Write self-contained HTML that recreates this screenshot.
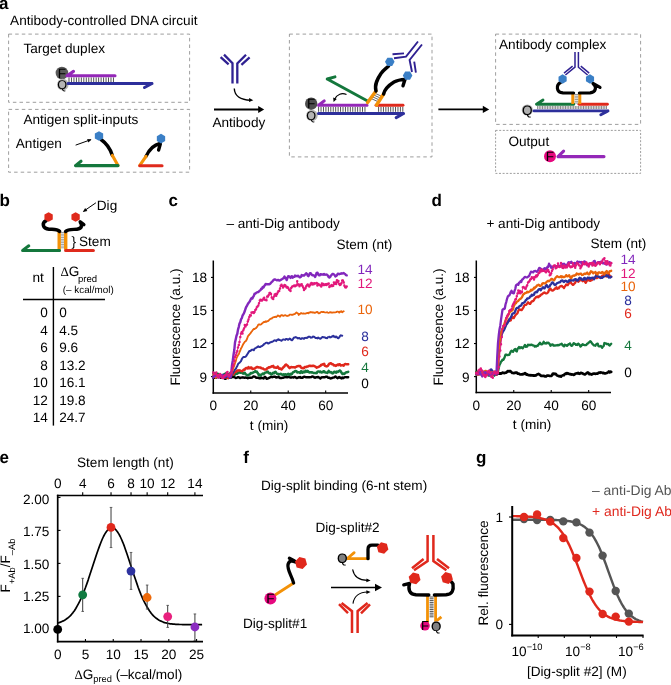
<!DOCTYPE html>
<html><head><meta charset="utf-8"><title>Antibody-controlled DNA circuit</title>
<style>html,body{margin:0;padding:0;background:#fff}svg{display:block}text{font-family:'Liberation Sans', Arial, Helvetica, sans-serif;text-rendering:geometricPrecision}</style></head><body>
<svg width="671" height="685" viewBox="0 0 671 685">
<rect width="671" height="685" fill="#fff"/>
<text x="-1.1" y="8.9" font-size="17" text-anchor="start" fill="#000" font-weight="bold">a</text>
<text x="-0.4" y="206" font-size="17" text-anchor="start" fill="#000" font-weight="bold">b</text>
<text x="168.4" y="205.8" font-size="17" text-anchor="start" fill="#000" font-weight="bold">c</text>
<text x="431.4" y="205.8" font-size="17" text-anchor="start" fill="#000" font-weight="bold">d</text>
<text x="-0.5" y="463.1" font-size="17" text-anchor="start" fill="#000" font-weight="bold">e</text>
<text x="243.3" y="463.1" font-size="17" text-anchor="start" fill="#000" font-weight="bold">f</text>
<text x="476.0" y="463.2" font-size="17" text-anchor="start" fill="#000" font-weight="bold">g</text>
<text x="10.1" y="24.6" font-size="13.6" text-anchor="start" fill="#000">Antibody-controlled DNA circuit</text>
<rect x="8.6" y="34.1" width="181.00" height="68.20" fill="none" stroke="#858585" stroke-width="0.8" stroke-dasharray="3.5 3.1"/>
<rect x="8.6" y="109.4" width="181.00" height="62.80" fill="none" stroke="#858585" stroke-width="0.8" stroke-dasharray="3.5 3.1"/>
<rect x="289.4" y="34.1" width="142.60" height="122.80" fill="none" stroke="#858585" stroke-width="0.8" stroke-dasharray="3.5 3.1"/>
<rect x="495.6" y="34.1" width="145.00" height="90.30" fill="none" stroke="#858585" stroke-width="0.8" stroke-dasharray="3.5 3.1"/>
<rect x="495.6" y="130.4" width="145.00" height="43.00" fill="none" stroke="#858585" stroke-width="0.8" stroke-dasharray="2 1.6"/>
<text x="23.4" y="52.5" font-size="13.6" text-anchor="start" fill="#000">Target duplex</text>
<text x="23.4" y="124.4" font-size="13.6" text-anchor="start" fill="#000">Antigen split-inputs</text>
<text x="15.8" y="148" font-size="13.6" text-anchor="start" fill="#000">Antigen</text>
<text x="212.4" y="127" font-size="13.6" text-anchor="start" fill="#000">Antibody</text>
<text x="499.0" y="49.4" font-size="13.6" text-anchor="start" fill="#000">Antibody complex</text>
<text x="508.4" y="145.8" font-size="13.6" text-anchor="start" fill="#000">Output</text>
<circle cx="61.9" cy="73" r="6.3" fill="#5a5a5a"/>
<text x="61.9" y="77.7" font-size="13.6" text-anchor="middle" fill="#000">F</text>
<circle cx="62.8" cy="84.6" r="5.8" fill="#b4b4b4"/>
<text x="62.1" y="88.7" font-size="12.7" text-anchor="middle" fill="#000">Q</text>
<path d="M69.00,77.4V82.2M71.47,77.4V82.2M73.94,77.4V82.2M76.41,77.4V82.2M78.88,77.4V82.2M81.35,77.4V82.2M83.82,77.4V82.2M86.29,77.4V82.2M88.76,77.4V82.2M91.23,77.4V82.2M93.70,77.4V82.2M96.17,77.4V82.2M98.64,77.4V82.2M101.11,77.4V82.2M103.58,77.4V82.2M106.05,77.4V82.2M108.52,77.4V82.2M110.99,77.4V82.2M113.46,77.4V82.2" stroke="#1a1a1a" stroke-width="0.75" fill="none" stroke-linecap="butt" stroke-linejoin="round"/>
<path d="M67,75.7H115M67,75.7L73.5,71.4" stroke="#9428b8" stroke-width="3.1" fill="none" stroke-linecap="round" stroke-linejoin="round"/>
<path d="M68,83.5H152M152,83.5L144.5,87.5" stroke="#2d2f9b" stroke-width="3.0" fill="none" stroke-linecap="round" stroke-linejoin="round"/>
<path d="M76,145L90.5,139.8" stroke="#000" stroke-width="1" fill="none" stroke-linecap="round" stroke-linejoin="round"/>
<polygon points="91.50,139.40 88.36,142.46 87.13,139.08" fill="#000"/>
<path d="M101,139.5C106,143 110,148 112.4,155.4" stroke="#000" stroke-width="3.4" fill="none" stroke-linecap="round" stroke-linejoin="round"/>
<path d="M112.4,155.4L118,165.4" stroke="#f39208" stroke-width="3.1" fill="none" stroke-linecap="round" stroke-linejoin="round"/>
<path d="M118,165.6H75.5M75.5,165.6L81,161.2" stroke="#14773c" stroke-width="3.1" fill="none" stroke-linecap="round" stroke-linejoin="round"/>
<polygon points="103.16,138.40 99.00,140.80 94.84,138.40 94.84,133.60 99.00,131.20 103.16,133.60" fill="#3a7fc6"/>
<path d="M146,156.4C149,150 153,145 160,143.5M160.3,144L158.6,150" stroke="#000" stroke-width="3.4" fill="none" stroke-linecap="round" stroke-linejoin="round"/>
<path d="M139.8,165.4L146,156.4" stroke="#f39208" stroke-width="3.1" fill="none" stroke-linecap="round" stroke-linejoin="round"/>
<path d="M139.8,165.7H162" stroke="#df2a1c" stroke-width="3.1" fill="none" stroke-linecap="round" stroke-linejoin="round"/>
<polygon points="165.16,141.00 161.00,143.40 156.84,141.00 156.84,136.20 161.00,133.80 165.16,136.20" fill="#3a7fc6"/>
<path d="M224,54.6L232.5,63.2V83.5M246,54.8L237.3,63.4V83.5M220.6,57.2L228.6,64.3M249.6,57.4L241.4,64.8" stroke="#2f2192" stroke-width="2.3" fill="none" stroke-linecap="butt" stroke-linejoin="miter"/>
<path d="M234.3,88.6C234.5,96 241,100 250.5,100.2" stroke="#000" stroke-width="1.4" fill="none" stroke-linecap="butt" stroke-linejoin="round"/>
<polygon points="253.30,100.20 249.03,102.05 249.17,98.05" fill="#000"/>
<line x1="214.00" y1="109.50" x2="259.00" y2="109.50" stroke="#000" stroke-width="1.9" stroke-linecap="butt"/>
<polygon points="264.20,109.50 258.20,113.10 258.20,105.90" fill="#000"/>
<line x1="438.40" y1="109.40" x2="484.00" y2="109.40" stroke="#000" stroke-width="1.9" stroke-linecap="butt"/>
<polygon points="489.20,109.40 482.80,113.00 482.80,105.80" fill="#000"/>
<circle cx="311.2" cy="103.7" r="6.2" fill="#4d4d4d"/>
<text x="311.2" y="108.4" font-size="13.6" text-anchor="middle" fill="#000">F</text>
<circle cx="311.9" cy="115.5" r="5.8" fill="#b4b4b4"/>
<text x="311.2" y="119.7" font-size="12.7" text-anchor="middle" fill="#000">Q</text>
<path d="M318.60,106.8V111.8M321.04,106.8V111.8M323.48,106.8V111.8M325.92,106.8V111.8M328.36,106.8V111.8M330.80,106.8V111.8M333.24,106.8V111.8M335.68,106.8V111.8M338.12,106.8V111.8M340.56,106.8V111.8M343.00,106.8V111.8M345.44,106.8V111.8M347.88,106.8V111.8M350.32,106.8V111.8M352.76,106.8V111.8M355.20,106.8V111.8M357.64,106.8V111.8M360.08,106.8V111.8M362.52,106.8V111.8M364.96,106.8V111.8" stroke="#1a1a1a" stroke-width="0.75" fill="none" stroke-linecap="butt" stroke-linejoin="round"/>
<path d="M378.60,106.8V111.8M381.02,106.8V111.8M383.44,106.8V111.8M385.86,106.8V111.8M388.28,106.8V111.8M390.70,106.8V111.8M393.12,106.8V111.8M395.54,106.8V111.8M397.96,106.8V111.8M400.38,106.8V111.8M402.80,106.8V111.8" stroke="#1a1a1a" stroke-width="0.75" fill="none" stroke-linecap="butt" stroke-linejoin="round"/>
<path d="M318.6,105.3H367M318.6,105.3L324.2,100.9" stroke="#9428b8" stroke-width="3.1" fill="none" stroke-linecap="round" stroke-linejoin="round"/>
<path d="M318.5,113.5H403.5M403.5,113.5L396.2,117.6" stroke="#2d2f9b" stroke-width="3.1" fill="none" stroke-linecap="round" stroke-linejoin="round"/>
<path d="M376,105.2H403" stroke="#df2a1c" stroke-width="2.9" fill="none" stroke-linecap="round" stroke-linejoin="round"/>
<path d="M368,101.2L327.2,79M327.2,79L335,76.8" stroke="#14773c" stroke-width="2.9" fill="none" stroke-linecap="round" stroke-linejoin="round"/>
<path d="M371.6,96.4L378.6,99.6M372.8,94.6L379.8,97.8M374,92.8L381,96M370.4,98.2L377.4,101.4" stroke="#222" stroke-width="0.7" fill="none" stroke-linecap="butt" stroke-linejoin="round"/>
<path d="M367.6,102.6L376,91" stroke="#f39208" stroke-width="3.4" fill="none" stroke-linecap="round" stroke-linejoin="round"/>
<path d="M376.6,105L383.6,94" stroke="#f39208" stroke-width="3.4" fill="none" stroke-linecap="round" stroke-linejoin="round"/>
<path d="M376,91C374,84 378,78 381,73.5C383.5,70 386,68.5 388.6,66" stroke="#000" stroke-width="3.4" fill="none" stroke-linecap="round" stroke-linejoin="round"/>
<path d="M383.6,94C385,88 390,84.5 394,82C398,79.8 401,79.6 405,79.4M405,79.6L403,85.8" stroke="#000" stroke-width="3.4" fill="none" stroke-linecap="round" stroke-linejoin="round"/>
<polygon points="394.60,61.80 392.20,65.96 387.40,65.96 385.00,61.80 387.40,57.64 392.20,57.64" fill="#3a7fc6"/>
<polygon points="412.40,75.60 410.00,79.76 405.20,79.76 402.80,75.60 405.20,71.44 410.00,71.44" fill="#3a7fc6"/>
<path d="M418,41.5L406,56.6L394,58.3M422,44.5L409.6,60L412,72M392.5,54.2L404,53.4M414.2,61.6L415.9,72.6" stroke="#2f2192" stroke-width="1.9" fill="none" stroke-linecap="butt" stroke-linejoin="miter"/>
<path d="M346.5,94.5C342,92.5 337,94 334.5,99.5" stroke="#000" stroke-width="1.1" fill="none" stroke-linecap="butt" stroke-linejoin="round"/>
<polygon points="333.60,102.00 333.18,97.59 336.75,98.89" fill="#000"/>
<circle cx="527.3" cy="110" r="5.6" fill="#b0b0b0"/>
<text x="527.3" y="114.7" font-size="13.6" text-anchor="middle" fill="#000">Q</text>
<path d="M537.60,106V109.1M539.24,106V109.1M540.88,106V109.1M542.52,106V109.1M544.16,106V109.1M545.80,106V109.1M547.44,106V109.1M549.08,106V109.1M550.72,106V109.1M552.36,106V109.1M554.00,106V109.1M555.64,106V109.1M557.28,106V109.1M558.92,106V109.1M560.56,106V109.1M562.20,106V109.1M563.84,106V109.1M565.48,106V109.1M567.12,106V109.1M568.76,106V109.1M570.40,106V109.1M572.04,106V109.1M573.68,106V109.1M575.32,106V109.1M576.96,106V109.1M578.60,106V109.1M580.24,106V109.1M581.88,106V109.1M583.52,106V109.1M585.16,106V109.1M586.80,106V109.1M588.44,106V109.1M590.08,106V109.1M591.72,106V109.1M593.36,106V109.1M595.00,106V109.1M596.64,106V109.1M598.28,106V109.1M599.92,106V109.1M601.56,106V109.1M603.20,106V109.1M604.84,106V109.1M606.48,106V109.1" stroke="#222" stroke-width="0.55" fill="none" stroke-linecap="butt" stroke-linejoin="round"/>
<path d="M536.5,104.2H573.8M536.5,104.2L543,100" stroke="#14773c" stroke-width="2.9" fill="none" stroke-linecap="round" stroke-linejoin="round"/>
<path d="M579,104.2H607.4" stroke="#df2a1c" stroke-width="2.9" fill="none" stroke-linecap="round" stroke-linejoin="round"/>
<path d="M534,110.9H608M608,110.9L600.8,114.8" stroke="#2d2f9b" stroke-width="2.9" fill="none" stroke-linecap="round" stroke-linejoin="round"/>
<path d="M0.00,0V0" stroke="#1a1a1a" stroke-width="0.75" fill="none" stroke-linecap="butt" stroke-linejoin="round"/>
<path d="M574.6,94.5H578.6M574.6,96.2H578.6M574.6,97.9H578.6M574.6,99.6H578.6M574.6,101.3H578.6M574.6,103H578.6" stroke="#444" stroke-width="0.6" fill="none" stroke-linecap="butt" stroke-linejoin="round"/>
<path d="M572.8,92.6V104" stroke="#f39208" stroke-width="3" fill="none" stroke-linecap="butt" stroke-linejoin="round"/>
<path d="M579.8,92.6V104" stroke="#f39208" stroke-width="3" fill="none" stroke-linecap="butt" stroke-linejoin="round"/>
<path d="M560.5,82.5C556,85 556,92.5 563,92.8L573.6,93" stroke="#000" stroke-width="3.2" fill="none" stroke-linecap="round" stroke-linejoin="round"/>
<path d="M579.4,93L590,92.8C596,92.5 597,87 593,83.6M593,83.4L600,87.4" stroke="#000" stroke-width="3.2" fill="none" stroke-linecap="round" stroke-linejoin="round"/>
<polygon points="566.67,81.35 562.60,83.70 558.53,81.35 558.53,76.65 562.60,74.30 566.67,76.65" fill="#3a7fc6"/>
<polygon points="594.07,81.35 590.00,83.70 585.93,81.35 585.93,76.65 590.00,74.30 594.07,76.65" fill="#3a7fc6"/>
<path d="M575,52V67.2L565.4,75M578.4,52V67.2L587.6,75M572.6,66.2L564,73.2M580.8,66.2L589.2,73.2" stroke="#2f2192" stroke-width="1.5" fill="none" stroke-linecap="butt" stroke-linejoin="miter"/>
<circle cx="550" cy="156.3" r="6" fill="#e6087f"/>
<text x="550" y="160.8" font-size="13.6" text-anchor="middle" fill="#000">F</text>
<path d="M558,156.6H604M558,156.6L563.6,151.2" stroke="#9428b8" stroke-width="3.1" fill="none" stroke-linecap="round" stroke-linejoin="round"/>
<path d="M95.6,203L84,211" stroke="#000" stroke-width="1" fill="none" stroke-linecap="round" stroke-linejoin="round"/>
<polygon points="82.80,211.90 85.15,207.93 87.33,211.05" fill="#000"/>
<text x="96.8" y="209.8" font-size="13.6" text-anchor="start" fill="#000">Dig</text>
<text x="79.0" y="246" font-size="13.6" text-anchor="start" fill="#000">Stem</text>
<text x="71.6" y="246.2" font-size="13.6" text-anchor="start" fill="#000">}</text>
<path d="M60.6,232.5H64.6M60.6,234.2H64.6M60.6,235.9H64.6M60.6,237.6H64.6M60.6,239.3H64.6M60.6,241H64.6M60.6,242.7H64.6M60.6,244.4H64.6M60.6,246.1H64.6M60.6,247.8H64.6" stroke="#555" stroke-width="0.6" fill="none" stroke-linecap="butt" stroke-linejoin="round"/>
<path d="M59.2,231V249.8" stroke="#f39208" stroke-width="3.4" fill="none" stroke-linecap="butt" stroke-linejoin="round"/>
<path d="M65.7,231V249.8" stroke="#f39208" stroke-width="3.4" fill="none" stroke-linecap="butt" stroke-linejoin="round"/>
<path d="M22.6,250.4H59.6M22.6,250.4L28.8,245.8" stroke="#14773c" stroke-width="3" fill="none" stroke-linecap="round" stroke-linejoin="round"/>
<path d="M65.6,250.4H93.4" stroke="#df2a1c" stroke-width="3" fill="none" stroke-linecap="round" stroke-linejoin="round"/>
<path d="M46.2,220.6C41.5,223 42.5,228.6 49,229.2C53,229.6 57,229 59.6,231.4" stroke="#000" stroke-width="3.5" fill="none" stroke-linecap="round" stroke-linejoin="round"/>
<path d="M65.6,231.4C68,229 73,229.6 77,229.2C82,228.6 82.5,225.5 80.2,222M80.2,221.8L83.8,224.6" stroke="#000" stroke-width="3.5" fill="none" stroke-linecap="round" stroke-linejoin="round"/>
<polygon points="52.76,219.40 48.60,221.80 44.44,219.40 44.44,214.60 48.60,212.20 52.76,214.60" fill="#df2a1c"/>
<polygon points="79.76,219.40 75.60,221.80 71.44,219.40 71.44,214.60 75.60,212.20 79.76,214.60" fill="#df2a1c"/>
<line x1="53.40" y1="267.00" x2="53.40" y2="425.60" stroke="#000" stroke-width="1.4" stroke-linecap="butt"/>
<line x1="23.00" y1="299.50" x2="105.00" y2="299.50" stroke="#000" stroke-width="1.4" stroke-linecap="butt"/>
<text x="32.4" y="282" font-size="13.6" text-anchor="start" fill="#000">nt</text>
<text x="60.4" y="276" font-size="13.6"><tspan font-family="'Liberation Serif',serif" font-size="13">Δ</tspan>G</text>
<text x="78.0" y="281.6" font-size="9.55" text-anchor="start" fill="#000">pred</text>
<text x="62.8" y="293" font-size="9.85" text-anchor="start" fill="#000">(– kcal/mol)</text>
<text x="47.8" y="317.2" font-size="13.6" text-anchor="end" fill="#000">0</text>
<text x="59.2" y="317.2" font-size="13.6" text-anchor="start" fill="#000">0</text>
<text x="47.8" y="334.7" font-size="13.6" text-anchor="end" fill="#000">4</text>
<text x="59.2" y="334.7" font-size="13.6" text-anchor="start" fill="#000">4.5</text>
<text x="47.8" y="352.1" font-size="13.6" text-anchor="end" fill="#000">6</text>
<text x="59.2" y="352.1" font-size="13.6" text-anchor="start" fill="#000">9.6</text>
<text x="47.8" y="369.6" font-size="13.6" text-anchor="end" fill="#000">8</text>
<text x="59.2" y="369.6" font-size="13.6" text-anchor="start" fill="#000">13.2</text>
<text x="47.8" y="387.1" font-size="13.6" text-anchor="end" fill="#000">10</text>
<text x="59.2" y="387.1" font-size="13.6" text-anchor="start" fill="#000">16.1</text>
<text x="47.8" y="404.5" font-size="13.6" text-anchor="end" fill="#000">12</text>
<text x="59.2" y="404.5" font-size="13.6" text-anchor="start" fill="#000">19.8</text>
<text x="47.8" y="422.0" font-size="13.6" text-anchor="end" fill="#000">14</text>
<text x="59.2" y="422.0" font-size="13.6" text-anchor="start" fill="#000">24.7</text>
<line x1="213.30" y1="260.50" x2="213.30" y2="393.75" stroke="#000" stroke-width="1.5" stroke-linecap="butt"/>
<line x1="212.55" y1="393.00" x2="348.00" y2="393.00" stroke="#000" stroke-width="1.5" stroke-linecap="butt"/>
<line x1="211.00" y1="376.60" x2="213.30" y2="376.60" stroke="#000" stroke-width="1.1" stroke-linecap="butt"/>
<text x="207.0" y="381.5" font-size="13.6" text-anchor="end" fill="#000">9</text>
<line x1="211.00" y1="343.54" x2="213.30" y2="343.54" stroke="#000" stroke-width="1.1" stroke-linecap="butt"/>
<text x="207.0" y="348.4" font-size="13.6" text-anchor="end" fill="#000">12</text>
<line x1="211.00" y1="310.48" x2="213.30" y2="310.48" stroke="#000" stroke-width="1.1" stroke-linecap="butt"/>
<text x="207.0" y="315.4" font-size="13.6" text-anchor="end" fill="#000">15</text>
<line x1="211.00" y1="277.42" x2="213.30" y2="277.42" stroke="#000" stroke-width="1.1" stroke-linecap="butt"/>
<text x="207.0" y="282.3" font-size="13.6" text-anchor="end" fill="#000">18</text>
<text x="213.3" y="410.3" font-size="13.6" text-anchor="middle" fill="#000">0</text>
<line x1="250.76" y1="390.40" x2="250.76" y2="393.00" stroke="#000" stroke-width="1.1" stroke-linecap="butt"/>
<text x="250.8" y="410.3" font-size="13.6" text-anchor="middle" fill="#000">20</text>
<line x1="288.22" y1="390.40" x2="288.22" y2="393.00" stroke="#000" stroke-width="1.1" stroke-linecap="butt"/>
<text x="288.2" y="410.3" font-size="13.6" text-anchor="middle" fill="#000">40</text>
<line x1="325.68" y1="390.40" x2="325.68" y2="393.00" stroke="#000" stroke-width="1.1" stroke-linecap="butt"/>
<text x="325.7" y="410.3" font-size="13.6" text-anchor="middle" fill="#000">60</text>
<text x="269.1" y="429.8" font-size="13.6" text-anchor="middle" fill="#000">t (min)</text>
<text transform="translate(180.3,327) rotate(-90)" font-size="13.6" text-anchor="middle">Fluorescence (a.u.)</text>
<text x="226.4" y="227.8" font-size="13.6" text-anchor="start" fill="#000">– anti-Dig antibody</text>
<path d="M213.3,377.5 L214.0,377.5 L214.8,377.9 L215.5,377.9 L216.3,377.5 L217.0,377.1 L217.8,376.7 L218.5,376.9 L219.3,376.9 L220.0,377.2 L220.8,377.8 L221.5,377.7 L222.3,377.6 L223.0,376.9 L223.8,377.7 L224.5,378.4 L225.3,378.9 L226.0,378.5 L226.8,377.8 L227.5,377.5 L228.3,377.2 L229.0,377.5 L229.8,377.4 L230.5,377.5 L231.3,377.5 L232.0,377.0 L232.8,377.0 L233.5,376.4 L234.3,377.1 L235.0,377.5 L235.8,378.0 L236.5,377.9 L237.3,377.4 L238.0,377.2 L238.8,377.3 L239.5,377.8 L240.3,378.1 L241.0,377.6 L241.8,377.5 L242.5,377.3 L243.3,377.5 L244.0,377.7 L244.8,377.8 L245.5,377.5 L246.3,377.7 L247.0,377.8 L247.8,378.3 L248.5,377.9 L249.3,377.6 L250.0,377.6 L250.8,377.8 L251.5,377.7 L252.3,377.5 L253.0,376.7 L253.8,376.5 L254.5,376.6 L255.3,376.9 L256.0,377.7 L256.8,377.7 L257.5,377.9 L258.3,377.6 L259.0,378.2 L259.8,378.3 L260.5,378.4 L261.2,377.5 L262.0,377.9 L262.7,378.2 L263.5,378.5 L264.2,377.4 L265.0,376.8 L265.7,377.4 L266.5,378.7 L267.2,378.8 L268.0,378.4 L268.7,378.0 L269.5,377.8 L270.2,377.2 L271.0,376.8 L271.7,377.0 L272.5,377.2 L273.2,376.8 L274.0,376.6 L274.7,376.6 L275.5,376.9 L276.2,377.6 L277.0,377.4 L277.7,377.3 L278.5,376.6 L279.2,377.6 L280.0,378.1 L280.7,378.0 L281.5,378.0 L282.2,377.8 L283.0,377.8 L283.7,377.6 L284.5,377.1 L285.2,377.2 L286.0,376.8 L286.7,377.3 L287.5,377.2 L288.2,377.1 L289.0,376.9 L289.7,377.3 L290.5,377.5 L291.2,377.5 L292.0,377.3 L292.7,377.4 L293.5,377.5 L294.2,377.0 L295.0,376.9 L295.7,377.6 L296.5,378.1 L297.2,378.0 L298.0,377.7 L298.7,377.2 L299.5,377.5 L300.2,377.0 L301.0,377.8 L301.7,377.7 L302.5,377.9 L303.2,377.2 L304.0,376.6 L304.7,376.7 L305.5,377.1 L306.2,377.3 L307.0,377.2 L307.7,377.3 L308.4,377.3 L309.2,377.3 L309.9,377.2 L310.7,377.1 L311.4,377.1 L312.2,376.4 L312.9,376.6 L313.7,376.9 L314.4,377.6 L315.2,377.7 L315.9,377.3 L316.7,377.3 L317.4,377.2 L318.2,376.9 L318.9,377.6 L319.7,378.1 L320.4,378.6 L321.2,377.6 L321.9,377.2 L322.7,377.4 L323.4,377.3 L324.2,377.3 L324.9,377.3 L325.7,376.8 L326.4,376.8 L327.2,376.8 L327.9,377.6 L328.7,377.8 L329.4,377.6 L330.2,378.4 L330.9,378.5 L331.7,378.2 L332.4,377.7 L333.2,377.6 L333.9,377.6 L334.7,376.9 L335.4,376.4 L336.2,377.3 L336.9,377.7 L337.7,378.2 L338.4,377.5 L339.2,377.0 L339.9,377.8 L340.7,377.6 L341.4,378.4 L342.2,377.4 L342.9,378.2 L343.7,377.7 L344.4,377.5 L345.2,377.1 L345.9,377.1 L346.7,377.2 L347.4,377.1 L348.2,377.2" stroke="#000" stroke-width="2.4" fill="none" stroke-linecap="round" stroke-linejoin="round"/>
<path d="M213.3,372.7 L214.0,372.9 L214.8,373.5 L215.5,373.3 L216.3,374.2 L217.0,373.6 L217.8,373.8 L218.5,374.3 L219.3,375.0 L220.0,375.1 L220.8,375.6 L221.5,376.4 L222.3,376.3 L223.0,375.1 L223.8,375.0 L224.5,374.0 L225.3,373.9 L226.0,373.3 L226.8,374.3 L227.5,374.3 L228.3,374.3 L229.0,374.3 L229.8,373.6 L230.5,372.6 L231.3,373.0 L232.0,374.6 L232.8,373.6 L233.5,374.3 L234.3,374.9 L235.0,374.6 L235.8,373.5 L236.5,373.5 L237.3,373.8 L238.0,373.0 L238.8,372.5 L239.5,372.0 L240.3,372.7 L241.0,372.6 L241.8,372.6 L242.5,373.2 L243.3,373.7 L244.0,373.0 L244.8,372.8 L245.5,374.2 L246.3,374.4 L247.0,375.2 L247.8,375.5 L248.5,375.2 L249.3,374.4 L250.0,374.2 L250.8,373.0 L251.5,373.3 L252.3,372.9 L253.0,372.6 L253.8,372.1 L254.5,371.8 L255.3,371.1 L256.0,371.9 L256.8,371.5 L257.5,372.8 L258.3,373.9 L259.0,375.5 L259.8,374.7 L260.5,375.6 L261.2,374.8 L262.0,374.3 L262.7,373.5 L263.5,374.2 L264.2,373.5 L265.0,372.7 L265.7,372.6 L266.5,372.3 L267.2,371.6 L268.0,371.8 L268.7,373.1 L269.5,373.4 L270.2,373.1 L271.0,374.3 L271.7,374.4 L272.5,373.4 L273.2,372.8 L274.0,373.3 L274.7,372.2 L275.5,371.8 L276.2,372.8 L277.0,373.8 L277.7,374.1 L278.5,374.0 L279.2,374.3 L280.0,374.2 L280.7,373.8 L281.5,374.2 L282.2,374.7 L283.0,374.9 L283.7,374.3 L284.5,375.0 L285.2,374.2 L286.0,374.4 L286.7,374.8 L287.5,374.6 L288.2,373.7 L289.0,374.8 L289.7,374.9 L290.5,373.9 L291.2,374.4 L292.0,373.9 L292.7,372.6 L293.5,371.9 L294.2,371.9 L295.0,371.1 L295.7,371.1 L296.5,371.2 L297.2,372.5 L298.0,372.2 L298.7,372.2 L299.5,372.6 L300.2,373.0 L301.0,371.2 L301.7,372.4 L302.5,372.8 L303.2,371.6 L304.0,371.8 L304.7,372.3 L305.5,370.7 L306.2,370.9 L307.0,371.8 L307.7,370.9 L308.4,371.6 L309.2,372.5 L309.9,372.3 L310.7,372.2 L311.4,372.6 L312.2,372.3 L312.9,372.7 L313.7,373.0 L314.4,372.9 L315.2,372.9 L315.9,373.2 L316.7,373.1 L317.4,371.7 L318.2,371.6 L318.9,371.4 L319.7,372.2 L320.4,371.5 L321.2,372.5 L321.9,372.2 L322.7,372.3 L323.4,371.2 L324.2,371.2 L324.9,372.3 L325.7,372.6 L326.4,372.6 L327.2,372.9 L327.9,372.5 L328.7,370.9 L329.4,372.0 L330.2,372.4 L330.9,372.0 L331.7,372.5 L332.4,373.4 L333.2,373.2 L333.9,372.0 L334.7,371.7 L335.4,372.3 L336.2,372.7 L336.9,371.5 L337.7,372.0 L338.4,371.7 L339.2,370.8 L339.9,370.5 L340.7,371.2 L341.4,372.6 L342.2,373.7 L342.9,374.1 L343.7,373.5 L344.4,373.9 L345.2,373.0 L345.9,372.5 L346.7,372.3 L347.4,372.2 L348.2,371.8" stroke="#14773c" stroke-width="2.5" fill="none" stroke-linecap="round" stroke-linejoin="round"/>
<path d="M213.3,376.5 L214.0,376.3 L214.8,376.7 L215.5,376.7 L216.3,376.3 L217.0,376.0 L217.8,376.0 L218.5,376.5 L219.3,376.4 L220.0,375.9 L220.8,375.8 L221.5,375.8 L222.3,375.1 L223.0,375.7 L223.8,377.0 L224.5,377.2 L225.3,377.5 L226.0,377.4 L226.8,377.4 L227.5,377.8 L228.3,378.2 L229.0,376.8 L229.8,377.0 L230.5,376.8 L231.3,375.6 L232.0,374.6 L232.8,374.8 L233.5,374.3 L234.3,372.7 L235.0,371.8 L235.8,371.8 L236.5,371.5 L237.3,370.6 L238.0,370.6 L238.8,370.3 L239.5,370.5 L240.3,370.6 L241.0,370.9 L241.8,371.2 L242.5,371.0 L243.3,370.1 L244.0,369.4 L244.8,369.7 L245.5,368.3 L246.3,368.0 L247.0,368.2 L247.8,368.5 L248.5,367.1 L249.3,368.2 L250.0,368.2 L250.8,367.6 L251.5,367.5 L252.3,369.0 L253.0,368.7 L253.8,368.8 L254.5,368.6 L255.3,368.2 L256.0,367.5 L256.8,367.1 L257.5,367.0 L258.3,367.3 L259.0,367.5 L259.8,367.5 L260.5,367.5 L261.2,368.2 L262.0,368.4 L262.7,368.4 L263.5,368.9 L264.2,369.3 L265.0,369.6 L265.7,369.6 L266.5,369.3 L267.2,368.3 L268.0,368.1 L268.7,367.2 L269.5,367.5 L270.2,366.9 L271.0,366.9 L271.7,366.3 L272.5,366.5 L273.2,365.9 L274.0,367.5 L274.7,367.4 L275.5,367.4 L276.2,367.8 L277.0,367.7 L277.7,366.6 L278.5,367.7 L279.2,368.8 L280.0,368.4 L280.7,368.7 L281.5,369.5 L282.2,368.7 L283.0,367.7 L283.7,367.0 L284.5,366.3 L285.2,365.0 L286.0,364.5 L286.7,365.2 L287.5,365.6 L288.2,366.4 L289.0,367.5 L289.7,368.1 L290.5,367.4 L291.2,367.0 L292.0,367.2 L292.7,367.2 L293.5,367.2 L294.2,367.3 L295.0,367.6 L295.7,366.9 L296.5,366.7 L297.2,366.3 L298.0,366.1 L298.7,366.0 L299.5,366.2 L300.2,366.0 L301.0,367.5 L301.7,368.0 L302.5,368.0 L303.2,368.3 L304.0,368.1 L304.7,366.9 L305.5,367.0 L306.2,367.1 L307.0,366.6 L307.7,366.5 L308.4,366.3 L309.2,365.7 L309.9,365.9 L310.7,365.8 L311.4,366.1 L312.2,366.0 L312.9,365.8 L313.7,365.8 L314.4,366.3 L315.2,366.4 L315.9,367.1 L316.7,367.7 L317.4,367.4 L318.2,367.0 L318.9,366.8 L319.7,366.2 L320.4,365.9 L321.2,364.8 L321.9,364.8 L322.7,364.3 L323.4,364.5 L324.2,363.8 L324.9,365.9 L325.7,366.1 L326.4,366.4 L327.2,366.2 L327.9,365.7 L328.7,364.5 L329.4,363.6 L330.2,363.3 L330.9,363.2 L331.7,364.0 L332.4,364.2 L333.2,364.5 L333.9,365.4 L334.7,365.2 L335.4,365.9 L336.2,365.7 L336.9,365.0 L337.7,364.6 L338.4,365.1 L339.2,364.2 L339.9,364.3 L340.7,365.6 L341.4,365.4 L342.2,365.1 L342.9,365.3 L343.7,365.7 L344.4,364.5 L345.2,363.9 L345.9,364.1 L346.7,364.3 L347.4,364.2 L348.2,364.3" stroke="#e0281c" stroke-width="2.5" fill="none" stroke-linecap="round" stroke-linejoin="round"/>
<path d="M213.3,376.3 L214.0,376.3 L214.8,376.3 L215.5,375.4 L216.3,375.1 L217.0,375.8 L217.8,376.0 L218.5,376.0 L219.3,375.6 L220.0,375.3 L220.8,374.7 L221.5,375.1 L222.3,374.8 L223.0,375.3 L223.8,374.7 L224.5,376.0 L225.3,376.0 L226.0,377.1 L226.8,376.1 L227.5,375.4 L228.3,375.2 L229.0,376.7 L229.8,378.0 L230.5,376.9 L231.3,376.1 L232.0,373.9 L232.8,373.2 L233.5,371.7 L234.3,370.9 L235.0,369.5 L235.8,368.9 L236.5,367.3 L237.3,366.0 L238.0,364.1 L238.8,363.2 L239.5,362.7 L240.3,361.9 L241.0,361.1 L241.8,359.1 L242.5,358.0 L243.3,357.0 L244.0,357.1 L244.8,357.0 L245.5,356.7 L246.3,355.9 L247.0,354.8 L247.8,353.5 L248.5,352.4 L249.3,351.0 L250.0,351.0 L250.8,350.7 L251.5,349.8 L252.3,349.8 L253.0,349.6 L253.8,350.3 L254.5,348.9 L255.3,348.1 L256.0,347.8 L256.8,347.3 L257.5,347.1 L258.3,346.2 L259.0,346.9 L259.8,346.9 L260.5,346.9 L261.2,346.2 L262.0,346.0 L262.7,345.4 L263.5,344.9 L264.2,343.9 L265.0,343.6 L265.7,342.9 L266.5,342.7 L267.2,342.8 L268.0,343.4 L268.7,343.4 L269.5,342.9 L270.2,342.3 L271.0,342.2 L271.7,341.8 L272.5,341.8 L273.2,341.3 L274.0,340.6 L274.7,340.3 L275.5,340.4 L276.2,341.1 L277.0,340.0 L277.7,339.8 L278.5,339.2 L279.2,340.1 L280.0,340.1 L280.7,340.4 L281.5,340.7 L282.2,340.0 L283.0,339.5 L283.7,339.4 L284.5,339.6 L285.2,339.9 L286.0,338.9 L286.7,338.9 L287.5,339.5 L288.2,339.7 L289.0,339.1 L289.7,338.6 L290.5,338.9 L291.2,340.1 L292.0,340.3 L292.7,339.6 L293.5,338.2 L294.2,337.4 L295.0,337.4 L295.7,337.1 L296.5,337.5 L297.2,337.8 L298.0,338.5 L298.7,338.0 L299.5,338.1 L300.2,338.8 L301.0,338.9 L301.7,338.3 L302.5,338.3 L303.2,338.5 L304.0,338.8 L304.7,338.0 L305.5,337.9 L306.2,337.7 L307.0,338.0 L307.7,337.5 L308.4,336.8 L309.2,336.7 L309.9,336.8 L310.7,337.7 L311.4,337.5 L312.2,337.5 L312.9,336.5 L313.7,336.7 L314.4,337.0 L315.2,337.6 L315.9,338.1 L316.7,338.0 L317.4,338.4 L318.2,337.5 L318.9,338.0 L319.7,338.6 L320.4,338.7 L321.2,338.1 L321.9,337.4 L322.7,337.0 L323.4,337.3 L324.2,337.3 L324.9,337.4 L325.7,338.0 L326.4,338.0 L327.2,338.2 L327.9,337.1 L328.7,336.9 L329.4,336.7 L330.2,337.4 L330.9,337.2 L331.7,336.6 L332.4,336.6 L333.2,335.7 L333.9,336.7 L334.7,336.4 L335.4,337.3 L336.2,336.6 L336.9,337.1 L337.7,338.1 L338.4,338.3 L339.2,337.4 L339.9,336.2 L340.7,335.3 L341.4,335.5 L342.2,335.7" stroke="#2b309c" stroke-width="2.0" fill="none" stroke-linecap="round" stroke-linejoin="round"/>
<path d="M213.3,374.9 L214.0,375.7 L214.8,376.0 L215.5,378.0 L216.3,377.2 L217.0,377.2 L217.8,375.5 L218.5,375.0 L219.3,374.9 L220.0,375.3 L220.8,376.3 L221.5,376.7 L222.3,376.8 L223.0,376.4 L223.8,376.0 L224.5,375.8 L225.3,376.1 L226.0,375.7 L226.8,375.6 L227.5,375.6 L228.3,375.7 L229.0,375.9 L229.8,376.3 L230.5,376.0 L231.3,375.1 L232.0,372.4 L232.8,370.0 L233.5,367.7 L234.3,365.6 L235.0,363.2 L235.8,361.1 L236.5,358.2 L237.3,356.7 L238.0,355.1 L238.8,354.2 L239.5,352.2 L240.3,350.5 L241.0,348.4 L241.8,347.2 L242.5,345.7 L243.3,344.0 L244.0,342.9 L244.8,341.7 L245.5,341.5 L246.3,340.4 L247.0,339.0 L247.8,336.6 L248.5,335.5 L249.3,334.8 L250.0,333.8 L250.8,332.9 L251.5,331.7 L252.3,330.8 L253.0,329.8 L253.8,328.9 L254.5,329.1 L255.3,328.3 L256.0,328.1 L256.8,327.2 L257.5,326.2 L258.3,324.6 L259.0,324.4 L259.8,324.5 L260.5,324.7 L261.2,324.3 L262.0,323.4 L262.7,322.9 L263.5,322.2 L264.2,321.7 L265.0,322.1 L265.7,321.3 L266.5,321.8 L267.2,321.1 L268.0,321.2 L268.7,320.5 L269.5,319.6 L270.2,319.0 L271.0,318.7 L271.7,318.6 L272.5,317.7 L273.2,317.3 L274.0,317.1 L274.7,317.0 L275.5,316.7 L276.2,317.1 L277.0,316.4 L277.7,315.5 L278.5,315.6 L279.2,316.3 L280.0,316.8 L280.7,315.5 L281.5,315.1 L282.2,315.2 L283.0,315.8 L283.7,315.9 L284.5,315.3 L285.2,315.2 L286.0,315.5 L286.7,315.8 L287.5,316.0 L288.2,315.6 L289.0,315.6 L289.7,314.6 L290.5,314.7 L291.2,314.7 L292.0,315.0 L292.7,314.6 L293.5,314.5 L294.2,314.2 L295.0,313.9 L295.7,313.1 L296.5,312.4 L297.2,312.9 L298.0,313.4 L298.7,315.0 L299.5,313.9 L300.2,313.9 L301.0,313.0 L301.7,313.4 L302.5,313.6 L303.2,313.4 L304.0,313.5 L304.7,313.7 L305.5,313.7 L306.2,313.2 L307.0,313.2 L307.7,312.9 L308.4,313.3 L309.2,312.4 L309.9,312.5 L310.7,312.0 L311.4,312.3 L312.2,312.1 L312.9,312.7 L313.7,312.3 L314.4,312.9 L315.2,312.8 L315.9,312.4 L316.7,311.9 L317.4,311.9 L318.2,312.9 L318.9,313.4 L319.7,313.2 L320.4,312.4 L321.2,311.9 L321.9,311.8 L322.7,312.2 L323.4,311.8 L324.2,312.1 L324.9,312.3 L325.7,312.5 L326.4,312.3 L327.2,312.2 L327.9,312.7 L328.7,312.8 L329.4,312.5 L330.2,312.1 L330.9,312.5 L331.7,312.5 L332.4,312.6 L333.2,312.5 L333.9,312.3 L334.7,312.5 L335.4,312.3 L336.2,312.2 L336.9,311.6 L337.7,311.7 L338.4,311.9 L339.2,312.7 L339.9,311.6 L340.7,311.9 L341.4,311.1 L342.2,312.2 L342.9,311.7 L343.7,311.3" stroke="#ea640a" stroke-width="1.8" fill="none" stroke-linecap="round" stroke-linejoin="round"/>
<path d="M213.3,377.5 L214.0,376.1 L214.8,376.2 L215.5,375.3 L216.3,375.2 L217.0,375.7 L217.8,376.5 L218.5,377.5 L219.3,375.9 L220.0,376.7 L220.8,375.6 L221.5,375.6 L222.3,375.2 L223.0,376.1 L223.8,377.7 L224.5,377.1 L225.3,375.9 L226.0,375.4 L226.8,375.6 L227.5,375.7 L228.3,374.9 L229.0,376.7 L229.8,377.1 L230.5,377.0 L231.3,373.2 L232.0,365.1 L232.8,360.4 L233.5,354.9 L234.3,350.0 L235.0,342.5 L235.8,339.0 L236.5,335.8 L237.3,333.8 L238.0,329.6 L238.8,326.8 L239.5,323.6 L240.3,322.1 L241.0,319.4 L241.8,318.2 L242.5,315.7 L243.3,314.3 L244.0,313.2 L244.8,311.0 L245.5,308.8 L246.3,306.7 L247.0,305.8 L247.8,304.1 L248.5,303.0 L249.3,302.0 L250.0,301.0 L250.8,299.1 L251.5,298.1 L252.3,298.6 L253.0,297.2 L253.8,295.9 L254.5,293.8 L255.3,293.8 L256.0,293.0 L256.8,292.5 L257.5,292.2 L258.3,292.0 L259.0,291.4 L259.8,290.5 L260.5,290.2 L261.2,288.8 L262.0,288.7 L262.7,287.1 L263.5,287.5 L264.2,286.0 L265.0,285.1 L265.7,283.9 L266.5,284.1 L267.2,284.4 L268.0,284.1 L268.7,284.2 L269.5,284.2 L270.2,283.8 L271.0,282.8 L271.7,282.0 L272.5,281.4 L273.2,280.4 L274.0,279.6 L274.7,279.4 L275.5,279.7 L276.2,280.0 L277.0,280.3 L277.7,280.0 L278.5,279.9 L279.2,280.5 L280.0,280.3 L280.7,280.0 L281.5,279.4 L282.2,279.0 L283.0,278.5 L283.7,277.9 L284.5,276.5 L285.2,278.2 L286.0,278.0 L286.7,280.1 L287.5,277.9 L288.2,276.2 L289.0,276.4 L289.7,276.8 L290.5,277.9 L291.2,276.5 L292.0,276.2 L292.7,277.7 L293.5,276.9 L294.2,276.9 L295.0,275.5 L295.7,276.3 L296.5,276.0 L297.2,276.2 L298.0,275.7 L298.7,276.3 L299.5,277.2 L300.2,277.3 L301.0,276.8 L301.7,275.0 L302.5,275.5 L303.2,275.5 L304.0,275.6 L304.7,274.9 L305.5,274.1 L306.2,273.3 L307.0,273.9 L307.7,275.6 L308.4,276.2 L309.2,274.8 L309.9,273.1 L310.7,273.1 L311.4,274.3 L312.2,275.2 L312.9,275.1 L313.7,275.3 L314.4,275.9 L315.2,276.9 L315.9,274.9 L316.7,272.8 L317.4,272.6 L318.2,274.4 L318.9,275.3 L319.7,275.4 L320.4,274.2 L321.2,274.3 L321.9,274.5 L322.7,274.5 L323.4,274.7 L324.2,274.0 L324.9,274.7 L325.7,274.6 L326.4,274.5 L327.2,274.9 L327.9,275.7 L328.7,277.1 L329.4,277.5 L330.2,276.8 L330.9,275.6 L331.7,274.8 L332.4,274.0 L333.2,273.9 L333.9,274.4 L334.7,275.1 L335.4,276.4 L336.2,276.0 L336.9,275.3 L337.7,273.8 L338.4,273.8 L339.2,274.2 L339.9,273.9 L340.7,273.8 L341.4,273.3 L342.2,273.5 L342.9,273.4 L343.7,273.0 L344.4,273.7 L345.2,274.0 L345.9,275.2 L346.7,275.4" stroke="#8227bc" stroke-width="2.4" fill="none" stroke-linecap="round" stroke-linejoin="round"/>
<path d="M213.3,372.4 L214.0,373.5 L214.8,374.1 L215.5,373.3 L216.3,372.6 L217.0,375.2 L217.8,376.8 L218.5,377.6 L219.3,374.7 L220.0,373.9 L220.8,375.3 L221.5,377.2 L222.3,378.1 L223.0,378.1 L223.8,376.1 L224.5,376.0 L225.3,375.1 L226.0,374.4 L226.8,372.4 L227.5,372.1 L228.3,375.1 L229.0,375.9 L229.8,374.5 L230.5,373.2 L231.3,372.3 L232.0,370.1 L232.8,366.6 L233.5,364.7 L234.3,361.0 L235.0,356.9 L235.8,355.2 L236.5,352.8 L237.3,351.1 L238.0,347.5 L238.8,345.1 L239.5,342.0 L240.3,336.9 L241.0,333.6 L241.8,331.9 L242.5,333.6 L243.3,330.2 L244.0,328.5 L244.8,325.0 L245.5,326.5 L246.3,325.0 L247.0,324.5 L247.8,321.6 L248.5,319.6 L249.3,316.9 L250.0,315.3 L250.8,315.4 L251.5,312.6 L252.3,312.4 L253.0,312.3 L253.8,312.9 L254.5,312.0 L255.3,310.1 L256.0,309.3 L256.8,307.2 L257.5,306.5 L258.3,305.4 L259.0,303.3 L259.8,300.5 L260.5,299.7 L261.2,300.4 L262.0,300.6 L262.7,299.8 L263.5,298.5 L264.2,297.8 L265.0,299.8 L265.7,300.0 L266.5,300.3 L267.2,296.5 L268.0,296.6 L268.7,295.0 L269.5,292.9 L270.2,293.0 L271.0,293.9 L271.7,297.4 L272.5,298.4 L273.2,298.9 L274.0,296.6 L274.7,294.4 L275.5,294.0 L276.2,295.7 L277.0,294.0 L277.7,292.6 L278.5,291.1 L279.2,291.1 L280.0,288.6 L280.7,285.8 L281.5,284.8 L282.2,285.9 L283.0,287.6 L283.7,286.6 L284.5,285.0 L285.2,285.3 L286.0,286.6 L286.7,287.6 L287.5,287.1 L288.2,288.0 L289.0,289.5 L289.7,290.0 L290.5,291.0 L291.2,288.1 L292.0,286.8 L292.7,286.3 L293.5,286.0 L294.2,285.5 L295.0,286.2 L295.7,285.6 L296.5,285.6 L297.2,281.2 L298.0,284.4 L298.7,284.6 L299.5,286.3 L300.2,284.7 L301.0,285.0 L301.7,284.2 L302.5,286.0 L303.2,287.5 L304.0,290.0 L304.7,289.0 L305.5,288.2 L306.2,286.3 L307.0,285.3 L307.7,284.6 L308.4,285.6 L309.2,286.4 L309.9,285.3 L310.7,283.7 L311.4,283.1 L312.2,284.4 L312.9,283.5 L313.7,284.2 L314.4,283.2 L315.2,283.5 L315.9,283.2 L316.7,282.9 L317.4,285.4 L318.2,283.9 L318.9,284.6 L319.7,285.1 L320.4,285.4 L321.2,286.6 L321.9,283.5 L322.7,284.9 L323.4,284.1 L324.2,285.1 L324.9,284.7 L325.7,284.3 L326.4,285.1 L327.2,284.0 L327.9,284.3 L328.7,283.5 L329.4,287.1 L330.2,285.9 L330.9,286.1 L331.7,285.0 L332.4,286.1 L333.2,285.7 L333.9,282.6 L334.7,283.8 L335.4,282.6 L336.2,284.0 L336.9,280.2 L337.7,282.0 L338.4,281.1 L339.2,284.1 L339.9,285.1 L340.7,284.6 L341.4,283.3 L342.2,280.4 L342.9,280.6 L343.7,282.2 L344.4,285.7 L345.2,287.3 L345.9,287.4 L346.7,286.5" stroke="#e2187b" stroke-width="0.9" fill="none" stroke-linecap="round" stroke-linejoin="round"/>
<path d="M213.3,372.4h0M214.0,373.5h0M214.8,374.1h0M215.5,373.3h0M216.3,372.6h0M217.0,375.2h0M217.8,376.8h0M218.5,377.6h0M219.3,374.7h0M220.0,373.9h0M220.8,375.3h0M221.5,377.2h0M222.3,378.1h0M223.0,378.1h0M223.8,376.1h0M224.5,376.0h0M225.3,375.1h0M226.0,374.4h0M226.8,372.4h0M227.5,372.1h0M228.3,375.1h0M229.0,375.9h0M229.8,374.5h0M230.5,373.2h0M231.3,372.3h0M232.0,370.1h0M232.8,366.6h0M233.5,364.7h0M234.3,361.0h0M235.0,356.9h0M235.8,355.2h0M236.5,352.8h0M237.3,351.1h0M238.0,347.5h0M238.8,345.1h0M239.5,342.0h0M240.3,336.9h0M241.0,333.6h0M241.8,331.9h0M242.5,333.6h0M243.3,330.2h0M244.0,328.5h0M244.8,325.0h0M245.5,326.5h0M246.3,325.0h0M247.0,324.5h0M247.8,321.6h0M248.5,319.6h0M249.3,316.9h0M250.0,315.3h0M250.8,315.4h0M251.5,312.6h0M252.3,312.4h0M253.0,312.3h0M253.8,312.9h0M254.5,312.0h0M255.3,310.1h0M256.0,309.3h0M256.8,307.2h0M257.5,306.5h0M258.3,305.4h0M259.0,303.3h0M259.8,300.5h0M260.5,299.7h0M261.2,300.4h0M262.0,300.6h0M262.7,299.8h0M263.5,298.5h0M264.2,297.8h0M265.0,299.8h0M265.7,300.0h0M266.5,300.3h0M267.2,296.5h0M268.0,296.6h0M268.7,295.0h0M269.5,292.9h0M270.2,293.0h0M271.0,293.9h0M271.7,297.4h0M272.5,298.4h0M273.2,298.9h0M274.0,296.6h0M274.7,294.4h0M275.5,294.0h0M276.2,295.7h0M277.0,294.0h0M277.7,292.6h0M278.5,291.1h0M279.2,291.1h0M280.0,288.6h0M280.7,285.8h0M281.5,284.8h0M282.2,285.9h0M283.0,287.6h0M283.7,286.6h0M284.5,285.0h0M285.2,285.3h0M286.0,286.6h0M286.7,287.6h0M287.5,287.1h0M288.2,288.0h0M289.0,289.5h0M289.7,290.0h0M290.5,291.0h0M291.2,288.1h0M292.0,286.8h0M292.7,286.3h0M293.5,286.0h0M294.2,285.5h0M295.0,286.2h0M295.7,285.6h0M296.5,285.6h0M297.2,281.2h0M298.0,284.4h0M298.7,284.6h0M299.5,286.3h0M300.2,284.7h0M301.0,285.0h0M301.7,284.2h0M302.5,286.0h0M303.2,287.5h0M304.0,290.0h0M304.7,289.0h0M305.5,288.2h0M306.2,286.3h0M307.0,285.3h0M307.7,284.6h0M308.4,285.6h0M309.2,286.4h0M309.9,285.3h0M310.7,283.7h0M311.4,283.1h0M312.2,284.4h0M312.9,283.5h0M313.7,284.2h0M314.4,283.2h0M315.2,283.5h0M315.9,283.2h0M316.7,282.9h0M317.4,285.4h0M318.2,283.9h0M318.9,284.6h0M319.7,285.1h0M320.4,285.4h0M321.2,286.6h0M321.9,283.5h0M322.7,284.9h0M323.4,284.1h0M324.2,285.1h0M324.9,284.7h0M325.7,284.3h0M326.4,285.1h0M327.2,284.0h0M327.9,284.3h0M328.7,283.5h0M329.4,287.1h0M330.2,285.9h0M330.9,286.1h0M331.7,285.0h0M332.4,286.1h0M333.2,285.7h0M333.9,282.6h0M334.7,283.8h0M335.4,282.6h0M336.2,284.0h0M336.9,280.2h0M337.7,282.0h0M338.4,281.1h0M339.2,284.1h0M339.9,285.1h0M340.7,284.6h0M341.4,283.3h0M342.2,280.4h0M342.9,280.6h0M343.7,282.2h0M344.4,285.7h0M345.2,287.3h0M345.9,287.4h0M346.7,286.5h0" stroke="#e2187b" stroke-width="2.5" fill="none" stroke-linecap="round" stroke-linejoin="round"/>
<text x="336.4" y="248.6" font-size="13.6" text-anchor="start" fill="#000">Stem (nt)</text>
<text x="365" y="274" font-size="13.6" text-anchor="middle" fill="#8227bc">14</text>
<text x="365" y="288.4" font-size="13.6" text-anchor="middle" fill="#e2187b">12</text>
<text x="365" y="314.4" font-size="13.6" text-anchor="middle" fill="#ea640a">10</text>
<text x="365" y="340.6" font-size="13.6" text-anchor="middle" fill="#2b309c">8</text>
<text x="365" y="356.4" font-size="13.6" text-anchor="middle" fill="#e0281c">6</text>
<text x="365" y="371.6" font-size="13.6" text-anchor="middle" fill="#14773c">4</text>
<text x="365" y="387.6" font-size="13.6" text-anchor="middle" fill="#000">0</text>
<line x1="476.30" y1="260.50" x2="476.30" y2="393.25" stroke="#000" stroke-width="1.5" stroke-linecap="butt"/>
<line x1="475.55" y1="392.50" x2="611.00" y2="392.50" stroke="#000" stroke-width="1.5" stroke-linecap="butt"/>
<line x1="474.00" y1="376.60" x2="476.30" y2="376.60" stroke="#000" stroke-width="1.1" stroke-linecap="butt"/>
<text x="469.6" y="381.5" font-size="13.6" text-anchor="end" fill="#000">9</text>
<line x1="474.00" y1="343.54" x2="476.30" y2="343.54" stroke="#000" stroke-width="1.1" stroke-linecap="butt"/>
<text x="469.6" y="348.4" font-size="13.6" text-anchor="end" fill="#000">12</text>
<line x1="474.00" y1="310.48" x2="476.30" y2="310.48" stroke="#000" stroke-width="1.1" stroke-linecap="butt"/>
<text x="469.6" y="315.4" font-size="13.6" text-anchor="end" fill="#000">15</text>
<line x1="474.00" y1="277.42" x2="476.30" y2="277.42" stroke="#000" stroke-width="1.1" stroke-linecap="butt"/>
<text x="469.6" y="282.3" font-size="13.6" text-anchor="end" fill="#000">18</text>
<text x="476.3" y="409.8" font-size="13.6" text-anchor="middle" fill="#000">0</text>
<line x1="513.76" y1="389.90" x2="513.76" y2="392.50" stroke="#000" stroke-width="1.1" stroke-linecap="butt"/>
<text x="513.8" y="409.8" font-size="13.6" text-anchor="middle" fill="#000">20</text>
<line x1="551.22" y1="389.90" x2="551.22" y2="392.50" stroke="#000" stroke-width="1.1" stroke-linecap="butt"/>
<text x="551.2" y="409.8" font-size="13.6" text-anchor="middle" fill="#000">40</text>
<line x1="588.68" y1="389.90" x2="588.68" y2="392.50" stroke="#000" stroke-width="1.1" stroke-linecap="butt"/>
<text x="588.7" y="409.8" font-size="13.6" text-anchor="middle" fill="#000">60</text>
<text x="532.1" y="429.3" font-size="13.6" text-anchor="middle" fill="#000">t (min)</text>
<text transform="translate(443.3,327) rotate(-90)" font-size="13.6" text-anchor="middle">Fluorescence (a.u.)</text>
<text x="486.4" y="227.8" font-size="13.6" text-anchor="start" fill="#000">+ anti-Dig antibody</text>
<path d="M476.3,373.9 L477.0,374.0 L477.8,373.8 L478.5,373.4 L479.3,373.6 L480.0,374.0 L480.8,373.6 L481.5,373.7 L482.3,373.6 L483.0,373.9 L483.8,373.5 L484.5,373.9 L485.3,374.4 L486.0,374.9 L486.8,374.1 L487.5,373.5 L488.3,373.0 L489.0,372.7 L489.8,373.0 L490.5,373.0 L491.3,373.0 L492.0,373.5 L492.8,373.6 L493.5,372.8 L494.3,372.7 L495.0,372.8 L495.8,373.1 L496.5,372.5 L497.3,372.5 L498.0,372.9 L498.8,373.7 L499.5,373.4 L500.3,373.4 L501.0,373.6 L501.8,373.1 L502.5,372.7 L503.3,372.8 L504.0,373.1 L504.8,372.9 L505.5,372.7 L506.3,372.6 L507.0,371.8 L507.8,371.2 L508.5,371.2 L509.3,371.5 L510.0,370.9 L510.8,371.6 L511.5,372.2 L512.3,372.9 L513.0,373.0 L513.8,373.1 L514.5,372.9 L515.3,372.8 L516.0,372.5 L516.8,372.6 L517.5,373.6 L518.3,373.5 L519.0,373.8 L519.8,374.2 L520.5,374.5 L521.3,374.4 L522.0,374.5 L522.8,374.0 L523.5,374.2 L524.2,373.6 L525.0,373.1 L525.7,373.6 L526.5,374.6 L527.2,374.4 L528.0,375.0 L528.7,375.2 L529.5,375.2 L530.2,375.4 L531.0,375.1 L531.7,375.5 L532.5,375.3 L533.2,375.7 L534.0,375.3 L534.7,375.7 L535.5,375.4 L536.2,375.3 L537.0,374.6 L537.7,374.2 L538.5,373.9 L539.2,374.3 L540.0,374.9 L540.7,375.5 L541.5,376.0 L542.2,376.0 L543.0,375.8 L543.7,375.9 L544.5,376.1 L545.2,376.5 L546.0,376.5 L546.7,375.8 L547.5,375.5 L548.2,375.5 L549.0,375.7 L549.7,375.9 L550.5,376.0 L551.2,375.9 L552.0,375.3 L552.7,373.8 L553.5,373.5 L554.2,374.1 L555.0,373.8 L555.7,373.9 L556.5,374.9 L557.2,375.5 L558.0,375.8 L558.7,376.2 L559.5,376.3 L560.2,376.1 L561.0,376.6 L561.7,375.7 L562.5,375.5 L563.2,375.2 L564.0,375.2 L564.7,374.1 L565.5,373.8 L566.2,373.2 L567.0,373.8 L567.7,373.2 L568.5,373.6 L569.2,373.9 L570.0,374.2 L570.7,374.1 L571.4,374.6 L572.2,374.3 L572.9,374.7 L573.7,374.8 L574.4,374.7 L575.2,373.7 L575.9,373.5 L576.7,373.4 L577.4,373.5 L578.2,372.9 L578.9,373.6 L579.7,373.8 L580.4,373.2 L581.2,372.8 L581.9,373.2 L582.7,373.4 L583.4,374.0 L584.2,374.2 L584.9,374.5 L585.7,373.7 L586.4,373.5 L587.2,372.7 L587.9,372.4 L588.7,373.1 L589.4,374.2 L590.2,373.8 L590.9,374.3 L591.7,374.6 L592.4,373.8 L593.2,373.8 L593.9,373.6 L594.7,373.7 L595.4,373.8 L596.2,373.7 L596.9,373.6 L597.7,373.6 L598.4,372.8 L599.2,372.6 L599.9,372.8 L600.7,372.3 L601.4,372.5 L602.2,372.7 L602.9,373.1 L603.7,372.9 L604.4,373.3 L605.2,373.4 L605.9,373.2 L606.7,373.0 L607.4,372.6 L608.2,372.2 L608.9,371.4 L609.7,372.4 L610.4,371.7 L611.2,371.8" stroke="#000" stroke-width="2.7" fill="none" stroke-linecap="round" stroke-linejoin="round"/>
<path d="M476.3,371.9 L477.0,371.7 L477.8,371.9 L478.5,373.9 L479.3,373.7 L480.0,373.2 L480.8,372.7 L481.5,371.9 L482.3,372.3 L483.0,372.1 L483.8,372.3 L484.5,372.7 L485.3,372.3 L486.0,372.1 L486.8,372.3 L487.5,373.7 L488.3,375.5 L489.0,375.8 L489.8,374.8 L490.5,375.4 L491.3,373.9 L492.0,373.2 L492.8,373.1 L493.5,373.6 L494.3,375.7 L495.0,374.2 L495.8,374.5 L496.5,373.4 L497.3,373.9 L498.0,371.8 L498.8,367.7 L499.5,364.9 L500.3,363.5 L501.0,361.6 L501.8,361.0 L502.5,359.6 L503.3,359.9 L504.0,358.7 L504.8,356.7 L505.5,354.7 L506.3,354.6 L507.0,355.0 L507.8,355.1 L508.5,354.8 L509.3,354.9 L510.0,353.3 L510.8,351.5 L511.5,350.6 L512.3,351.3 L513.0,351.8 L513.8,350.5 L514.5,349.4 L515.3,348.9 L516.0,350.8 L516.8,351.5 L517.5,349.0 L518.3,348.1 L519.0,347.0 L519.8,348.2 L520.5,347.3 L521.3,347.2 L522.0,348.0 L522.8,348.3 L523.5,346.9 L524.2,346.3 L525.0,344.9 L525.7,346.9 L526.5,346.4 L527.2,346.6 L528.0,344.7 L528.7,345.1 L529.5,344.8 L530.2,345.1 L531.0,344.7 L531.7,344.7 L532.5,345.4 L533.2,345.3 L534.0,345.5 L534.7,346.6 L535.5,346.0 L536.2,346.6 L537.0,345.7 L537.7,345.8 L538.5,344.6 L539.2,343.9 L540.0,342.7 L540.7,343.9 L541.5,344.4 L542.2,344.2 L543.0,343.2 L543.7,341.8 L544.5,343.3 L545.2,343.1 L546.0,343.6 L546.7,342.6 L547.5,343.1 L548.2,342.6 L549.0,343.4 L549.7,344.1 L550.5,345.8 L551.2,344.7 L552.0,344.5 L552.7,344.3 L553.5,345.6 L554.2,345.5 L555.0,345.6 L555.7,345.3 L556.5,345.4 L557.2,345.0 L558.0,345.4 L558.7,345.0 L559.5,345.0 L560.2,344.3 L561.0,344.2 L561.7,343.7 L562.5,345.2 L563.2,345.7 L564.0,346.4 L564.7,344.6 L565.5,345.3 L566.2,345.2 L567.0,345.9 L567.7,345.2 L568.5,344.1 L569.2,344.2 L570.0,343.4 L570.7,345.0 L571.4,345.9 L572.2,345.7 L572.9,344.5 L573.7,343.1 L574.4,343.8 L575.2,343.8 L575.9,344.9 L576.7,344.4 L577.4,345.0 L578.2,343.6 L578.9,344.2 L579.7,345.1 L580.4,346.6 L581.2,346.0 L581.9,344.8 L582.7,344.2 L583.4,344.8 L584.2,345.0 L584.9,345.1 L585.7,345.2 L586.4,344.9 L587.2,343.6 L587.9,343.6 L588.7,342.5 L589.4,342.4 L590.2,341.3 L590.9,341.8 L591.7,342.9 L592.4,343.9 L593.2,344.7 L593.9,345.3 L594.7,345.4 L595.4,345.7 L596.2,344.2 L596.9,343.9 L597.7,343.7 L598.4,346.0 L599.2,346.4 L599.9,346.4 L600.7,345.9 L601.4,346.6 L602.2,347.7 L602.9,346.7 L603.7,346.0 L604.4,343.0 L605.2,343.3 L605.9,343.4 L606.7,344.1 L607.4,344.0 L608.2,343.8 L608.9,345.0 L609.7,345.5 L610.4,344.6 L611.2,343.8" stroke="#14773c" stroke-width="2.3" fill="none" stroke-linecap="round" stroke-linejoin="round"/>
<path d="M476.3,372.6 L477.0,373.9 L477.8,373.2 L478.5,374.0 L479.3,373.2 L480.0,373.2 L480.8,371.7 L481.5,372.5 L482.3,372.5 L483.0,373.6 L483.8,373.5 L484.5,374.7 L485.3,373.8 L486.0,372.5 L486.8,372.2 L487.5,373.1 L488.3,374.2 L489.0,372.6 L489.8,371.7 L490.5,371.8 L491.3,374.0 L492.0,374.8 L492.8,373.9 L493.5,372.1 L494.3,371.9 L495.0,372.8 L495.8,374.0 L496.5,374.9 L497.3,374.1 L498.0,358.5 L498.8,347.0 L499.5,341.9 L500.3,337.7 L501.0,335.1 L501.8,332.4 L502.5,329.6 L503.3,328.4 L504.0,327.4 L504.8,326.4 L505.5,324.9 L506.3,324.4 L507.0,322.8 L507.8,322.1 L508.5,319.9 L509.3,320.9 L510.0,320.7 L510.8,320.5 L511.5,318.2 L512.3,317.8 L513.0,317.3 L513.8,318.1 L514.5,316.7 L515.3,315.4 L516.0,314.5 L516.8,313.9 L517.5,313.2 L518.3,310.8 L519.0,309.5 L519.8,309.3 L520.5,310.0 L521.3,310.2 L522.0,309.7 L522.8,308.4 L523.5,307.4 L524.2,305.6 L525.0,304.9 L525.7,304.9 L526.5,304.4 L527.2,303.5 L528.0,302.3 L528.7,302.9 L529.5,303.8 L530.2,303.9 L531.0,302.5 L531.7,301.5 L532.5,301.1 L533.2,301.0 L534.0,300.0 L534.7,298.5 L535.5,297.8 L536.2,296.8 L537.0,297.1 L537.7,296.5 L538.5,297.2 L539.2,296.0 L540.0,296.0 L540.7,295.0 L541.5,294.4 L542.2,294.1 L543.0,293.3 L543.7,292.9 L544.5,292.5 L545.2,293.0 L546.0,293.4 L546.7,293.4 L547.5,292.8 L548.2,292.1 L549.0,290.0 L549.7,289.2 L550.5,288.5 L551.2,290.1 L552.0,290.5 L552.7,290.7 L553.5,289.9 L554.2,289.7 L555.0,288.4 L555.7,288.5 L556.5,287.2 L557.2,288.9 L558.0,288.3 L558.7,288.4 L559.5,286.9 L560.2,286.3 L561.0,286.0 L561.7,285.8 L562.5,286.8 L563.2,287.1 L564.0,288.1 L564.7,286.6 L565.5,285.8 L566.2,284.5 L567.0,285.0 L567.7,285.2 L568.5,283.9 L569.2,282.4 L570.0,281.9 L570.7,282.0 L571.4,283.5 L572.2,284.2 L572.9,284.9 L573.7,284.4 L574.4,283.5 L575.2,282.9 L575.9,280.8 L576.7,280.6 L577.4,280.5 L578.2,281.7 L578.9,281.2 L579.7,280.6 L580.4,279.7 L581.2,280.1 L581.9,280.3 L582.7,281.2 L583.4,280.2 L584.2,280.9 L584.9,281.6 L585.7,282.8 L586.4,281.6 L587.2,280.4 L587.9,279.1 L588.7,280.4 L589.4,280.5 L590.2,280.8 L590.9,280.2 L591.7,280.3 L592.4,279.5 L593.2,278.3 L593.9,277.8 L594.7,277.7 L595.4,278.2 L596.2,278.0 L596.9,278.1 L597.7,277.4 L598.4,277.4 L599.2,277.4 L599.9,277.6 L600.7,277.8 L601.4,276.5 L602.2,276.0 L602.9,275.4 L603.7,275.3 L604.4,274.7 L605.2,275.6 L605.9,276.3 L606.7,276.5 L607.4,274.7 L608.2,274.3 L608.9,274.2 L609.7,275.7 L610.4,276.7 L611.2,276.9" stroke="#e0281c" stroke-width="2.3" fill="none" stroke-linecap="round" stroke-linejoin="round"/>
<path d="M476.3,373.9 L477.0,374.4 L477.8,373.8 L478.5,373.3 L479.3,373.2 L480.0,374.0 L480.8,373.5 L481.5,372.3 L482.3,371.6 L483.0,371.7 L483.8,372.4 L484.5,371.9 L485.3,372.3 L486.0,373.1 L486.8,373.1 L487.5,372.8 L488.3,372.9 L489.0,372.0 L489.8,371.3 L490.5,369.6 L491.3,369.5 L492.0,370.4 L492.8,371.8 L493.5,373.4 L494.3,374.4 L495.0,374.1 L495.8,373.8 L496.5,372.8 L497.3,374.2 L498.0,365.0 L498.8,352.7 L499.5,344.0 L500.3,339.9 L501.0,337.4 L501.8,334.3 L502.5,332.6 L503.3,331.0 L504.0,330.0 L504.8,328.2 L505.5,326.6 L506.3,324.5 L507.0,323.8 L507.8,322.5 L508.5,321.4 L509.3,319.3 L510.0,318.8 L510.8,317.4 L511.5,316.0 L512.3,313.9 L513.0,313.4 L513.8,313.3 L514.5,312.8 L515.3,311.1 L516.0,308.9 L516.8,307.9 L517.5,307.9 L518.3,307.8 L519.0,306.7 L519.8,306.0 L520.5,305.9 L521.3,305.3 L522.0,303.6 L522.8,303.1 L523.5,303.0 L524.2,302.4 L525.0,301.7 L525.7,300.3 L526.5,299.8 L527.2,298.4 L528.0,298.5 L528.7,298.2 L529.5,297.8 L530.2,296.3 L531.0,296.3 L531.7,294.8 L532.5,295.6 L533.2,294.6 L534.0,294.8 L534.7,292.7 L535.5,292.5 L536.2,291.7 L537.0,292.2 L537.7,290.9 L538.5,289.7 L539.2,289.2 L540.0,289.0 L540.7,290.3 L541.5,289.0 L542.2,288.2 L543.0,287.2 L543.7,288.2 L544.5,288.4 L545.2,287.3 L546.0,285.6 L546.7,285.0 L547.5,286.6 L548.2,287.4 L549.0,286.7 L549.7,286.1 L550.5,284.6 L551.2,284.1 L552.0,282.5 L552.7,282.3 L553.5,283.4 L554.2,284.5 L555.0,285.0 L555.7,284.7 L556.5,283.7 L557.2,283.0 L558.0,282.8 L558.7,282.4 L559.5,282.4 L560.2,282.1 L561.0,280.8 L561.7,280.6 L562.5,280.4 L563.2,281.5 L564.0,282.0 L564.7,281.1 L565.5,280.7 L566.2,280.8 L567.0,281.9 L567.7,281.9 L568.5,281.4 L569.2,280.2 L570.0,280.7 L570.7,279.9 L571.4,280.4 L572.2,280.3 L572.9,280.5 L573.7,280.5 L574.4,279.3 L575.2,279.5 L575.9,279.1 L576.7,280.4 L577.4,280.7 L578.2,280.3 L578.9,278.5 L579.7,277.7 L580.4,278.5 L581.2,278.4 L581.9,279.6 L582.7,279.6 L583.4,279.8 L584.2,278.0 L584.9,278.0 L585.7,279.6 L586.4,279.0 L587.2,278.2 L587.9,277.5 L588.7,278.3 L589.4,277.7 L590.2,278.8 L590.9,278.0 L591.7,278.1 L592.4,277.7 L593.2,277.8 L593.9,279.4 L594.7,277.3 L595.4,277.4 L596.2,274.8 L596.9,275.9 L597.7,276.1 L598.4,276.8 L599.2,276.8 L599.9,277.2 L600.7,278.0 L601.4,277.6 L602.2,277.8 L602.9,277.2 L603.7,276.8 L604.4,276.0 L605.2,275.2 L605.9,275.7 L606.7,274.9 L607.4,276.3 L608.2,275.6 L608.9,277.6 L609.7,277.1 L610.4,277.6 L611.2,276.7" stroke="#2b309c" stroke-width="2.3" fill="none" stroke-linecap="round" stroke-linejoin="round"/>
<path d="M476.3,373.7 L477.0,374.6 L477.8,374.8 L478.5,374.7 L479.3,373.7 L480.0,374.0 L480.8,373.7 L481.5,373.0 L482.3,372.5 L483.0,372.7 L483.8,372.4 L484.5,371.7 L485.3,370.9 L486.0,371.0 L486.8,371.7 L487.5,372.3 L488.3,372.4 L489.0,372.5 L489.8,372.5 L490.5,372.9 L491.3,372.4 L492.0,372.5 L492.8,372.1 L493.5,372.4 L494.3,371.9 L495.0,371.8 L495.8,371.3 L496.5,371.3 L497.3,372.6 L498.0,358.7 L498.8,349.7 L499.5,342.1 L500.3,335.7 L501.0,332.6 L501.8,329.9 L502.5,328.9 L503.3,326.6 L504.0,325.1 L504.8,322.6 L505.5,320.5 L506.3,318.1 L507.0,317.7 L507.8,315.9 L508.5,314.7 L509.3,312.8 L510.0,311.8 L510.8,311.5 L511.5,310.9 L512.3,310.3 L513.0,309.3 L513.8,305.9 L514.5,304.9 L515.3,302.6 L516.0,303.2 L516.8,301.7 L517.5,301.3 L518.3,301.0 L519.0,299.8 L519.8,299.2 L520.5,298.8 L521.3,298.1 L522.0,297.3 L522.8,295.4 L523.5,294.1 L524.2,293.9 L525.0,293.2 L525.7,293.0 L526.5,292.7 L527.2,291.6 L528.0,292.3 L528.7,291.9 L529.5,291.7 L530.2,291.0 L531.0,289.8 L531.7,290.5 L532.5,289.3 L533.2,289.4 L534.0,287.8 L534.7,288.2 L535.5,286.9 L536.2,286.8 L537.0,285.4 L537.7,285.3 L538.5,284.7 L539.2,285.1 L540.0,286.1 L540.7,285.8 L541.5,285.2 L542.2,283.7 L543.0,283.1 L543.7,283.4 L544.5,283.3 L545.2,283.5 L546.0,282.7 L546.7,281.8 L547.5,281.2 L548.2,280.8 L549.0,281.3 L549.7,280.5 L550.5,280.2 L551.2,279.0 L552.0,279.0 L552.7,279.5 L553.5,280.2 L554.2,280.3 L555.0,278.8 L555.7,277.5 L556.5,276.8 L557.2,276.2 L558.0,276.7 L558.7,277.1 L559.5,277.1 L560.2,276.9 L561.0,276.1 L561.7,277.3 L562.5,276.5 L563.2,277.0 L564.0,277.1 L564.7,276.8 L565.5,276.4 L566.2,275.1 L567.0,276.1 L567.7,276.4 L568.5,275.5 L569.2,275.2 L570.0,276.8 L570.7,278.1 L571.4,278.2 L572.2,276.1 L572.9,275.8 L573.7,275.5 L574.4,275.8 L575.2,274.9 L575.9,275.1 L576.7,273.4 L577.4,274.2 L578.2,274.0 L578.9,274.5 L579.7,273.8 L580.4,273.7 L581.2,273.7 L581.9,275.0 L582.7,274.8 L583.4,274.6 L584.2,273.6 L584.9,273.7 L585.7,274.0 L586.4,273.3 L587.2,272.5 L587.9,273.8 L588.7,274.4 L589.4,274.1 L590.2,272.6 L590.9,271.3 L591.7,271.6 L592.4,272.3 L593.2,273.3 L593.9,272.5 L594.7,272.7 L595.4,271.9 L596.2,274.1 L596.9,273.1 L597.7,274.2 L598.4,272.3 L599.2,272.3 L599.9,272.6 L600.7,272.8 L601.4,273.1 L602.2,272.0 L602.9,272.5 L603.7,273.1 L604.4,274.5 L605.2,272.5 L605.9,272.0 L606.7,271.0 L607.4,273.3 L608.2,272.7 L608.9,272.8 L609.7,271.1 L610.4,271.1 L611.2,270.8" stroke="#ea640a" stroke-width="2.3" fill="none" stroke-linecap="round" stroke-linejoin="round"/>
<path d="M476.3,373.3 L477.0,374.3 L477.8,374.4 L478.5,374.1 L479.3,373.8 L480.0,371.7 L480.8,374.3 L481.5,374.7 L482.3,376.5 L483.0,374.3 L483.8,373.5 L484.5,372.5 L485.3,372.1 L486.0,372.8 L486.8,372.7 L487.5,372.5 L488.3,373.5 L489.0,374.1 L489.8,375.4 L490.5,374.9 L491.3,374.6 L492.0,373.5 L492.8,372.5 L493.5,373.3 L494.3,373.5 L495.0,374.3 L495.8,373.3 L496.5,372.6 L497.3,355.3 L498.0,342.9 L498.8,334.9 L499.5,329.4 L500.3,325.4 L501.0,319.9 L501.8,314.3 L502.5,309.8 L503.3,309.0 L504.0,309.1 L504.8,308.5 L505.5,304.5 L506.3,301.8 L507.0,299.0 L507.8,296.6 L508.5,295.8 L509.3,295.4 L510.0,294.0 L510.8,291.9 L511.5,290.8 L512.3,292.7 L513.0,293.1 L513.8,293.4 L514.5,290.9 L515.3,288.8 L516.0,285.3 L516.8,284.6 L517.5,284.3 L518.3,284.9 L519.0,282.6 L519.8,282.6 L520.5,281.2 L521.3,282.0 L522.0,279.5 L522.8,279.3 L523.5,278.4 L524.2,277.6 L525.0,276.9 L525.7,277.1 L526.5,277.3 L527.2,277.4 L528.0,276.7 L528.7,276.4 L529.5,275.0 L530.2,273.4 L531.0,271.7 L531.7,271.8 L532.5,272.0 L533.2,272.4 L534.0,271.1 L534.7,271.2 L535.5,270.9 L536.2,271.5 L537.0,271.8 L537.7,271.0 L538.5,269.4 L539.2,268.0 L540.0,268.1 L540.7,268.6 L541.5,269.2 L542.2,270.6 L543.0,270.1 L543.7,269.4 L544.5,268.2 L545.2,269.3 L546.0,268.2 L546.7,269.0 L547.5,266.7 L548.2,267.0 L549.0,263.7 L549.7,265.4 L550.5,265.7 L551.2,267.8 L552.0,266.9 L552.7,266.9 L553.5,267.0 L554.2,266.1 L555.0,266.4 L555.7,266.1 L556.5,266.4 L557.2,266.1 L558.0,265.9 L558.7,266.0 L559.5,265.7 L560.2,266.3 L561.0,266.5 L561.7,266.3 L562.5,264.0 L563.2,264.6 L564.0,263.6 L564.7,265.5 L565.5,264.8 L566.2,265.7 L567.0,264.8 L567.7,263.8 L568.5,262.2 L569.2,262.8 L570.0,262.4 L570.7,262.9 L571.4,261.7 L572.2,263.3 L572.9,263.3 L573.7,263.9 L574.4,263.0 L575.2,263.9 L575.9,263.3 L576.7,262.6 L577.4,261.5 L578.2,262.1 L578.9,262.2 L579.7,261.9 L580.4,262.4 L581.2,262.0 L581.9,264.1 L582.7,262.9 L583.4,263.6 L584.2,261.4 L584.9,261.6 L585.7,262.4 L586.4,264.1 L587.2,265.2 L587.9,264.2 L588.7,263.8 L589.4,263.4 L590.2,263.5 L590.9,263.9 L591.7,263.7 L592.4,264.4 L593.2,262.5 L593.9,261.0 L594.7,260.8 L595.4,263.2 L596.2,264.1 L596.9,263.9 L597.7,262.5 L598.4,262.2 L599.2,262.5 L599.9,262.1 L600.7,261.8 L601.4,261.4 L602.2,262.4 L602.9,263.4 L603.7,263.0 L604.4,263.5 L605.2,263.3 L605.9,264.4 L606.7,264.6 L607.4,264.0 L608.2,263.4 L608.9,262.3 L609.7,262.1 L610.4,263.2 L611.2,263.3" stroke="#8227bc" stroke-width="2.3" fill="none" stroke-linecap="round" stroke-linejoin="round"/>
<path d="M476.3,373.2 L477.0,372.7 L477.8,373.5 L478.5,370.4 L479.3,369.8 L480.0,369.4 L480.8,368.4 L481.5,369.9 L482.3,371.1 L483.0,374.3 L483.8,375.5 L484.5,375.0 L485.3,376.9 L486.0,375.8 L486.8,375.2 L487.5,371.6 L488.3,371.9 L489.0,370.7 L489.8,372.8 L490.5,372.5 L491.3,376.7 L492.0,376.8 L492.8,377.7 L493.5,373.4 L494.3,371.8 L495.0,372.2 L495.8,373.3 L496.5,373.4 L497.3,372.3 L498.0,373.0 L498.8,367.0 L499.5,356.5 L500.3,350.6 L501.0,344.2 L501.8,337.1 L502.5,329.1 L503.3,326.0 L504.0,325.7 L504.8,325.2 L505.5,321.4 L506.3,317.9 L507.0,316.3 L507.8,315.1 L508.5,314.0 L509.3,310.9 L510.0,310.2 L510.8,310.1 L511.5,309.2 L512.3,306.2 L513.0,304.4 L513.8,303.2 L514.5,301.7 L515.3,299.5 L516.0,298.9 L516.8,296.3 L517.5,293.6 L518.3,290.4 L519.0,293.0 L519.8,291.0 L520.5,293.3 L521.3,291.8 L522.0,291.9 L522.8,287.3 L523.5,286.9 L524.2,287.8 L525.0,288.4 L525.7,288.8 L526.5,286.4 L527.2,285.2 L528.0,282.6 L528.7,282.0 L529.5,281.1 L530.2,279.5 L531.0,278.9 L531.7,277.3 L532.5,277.7 L533.2,277.6 L534.0,279.5 L534.7,277.1 L535.5,277.3 L536.2,275.6 L537.0,276.2 L537.7,275.1 L538.5,273.1 L539.2,273.0 L540.0,270.9 L540.7,271.6 L541.5,269.4 L542.2,271.0 L543.0,270.5 L543.7,270.8 L544.5,271.0 L545.2,271.5 L546.0,272.3 L546.7,271.2 L547.5,269.7 L548.2,270.1 L549.0,271.8 L549.7,275.3 L550.5,274.7 L551.2,273.2 L552.0,270.7 L552.7,269.2 L553.5,266.1 L554.2,265.5 L555.0,265.4 L555.7,268.2 L556.5,267.7 L557.2,266.4 L558.0,263.6 L558.7,266.6 L559.5,267.0 L560.2,266.5 L561.0,262.9 L561.7,265.7 L562.5,267.8 L563.2,268.0 L564.0,265.5 L564.7,266.0 L565.5,267.6 L566.2,266.8 L567.0,267.3 L567.7,264.4 L568.5,265.4 L569.2,263.3 L570.0,266.6 L570.7,267.2 L571.4,266.6 L572.2,266.7 L572.9,263.3 L573.7,265.8 L574.4,265.4 L575.2,267.8 L575.9,265.4 L576.7,262.9 L577.4,263.3 L578.2,264.1 L578.9,265.2 L579.7,265.4 L580.4,268.2 L581.2,266.7 L581.9,265.6 L582.7,262.2 L583.4,264.1 L584.2,264.0 L584.9,264.2 L585.7,263.5 L586.4,262.4 L587.2,264.4 L587.9,263.9 L588.7,266.5 L589.4,264.8 L590.2,263.2 L590.9,263.2 L591.7,262.9 L592.4,265.4 L593.2,262.9 L593.9,263.9 L594.7,265.2 L595.4,265.7 L596.2,264.9 L596.9,263.2 L597.7,262.5 L598.4,263.1 L599.2,263.1 L599.9,264.2 L600.7,262.6 L601.4,262.8 L602.2,261.6 L602.9,259.4 L603.7,259.2 L604.4,258.2 L605.2,263.5 L605.9,261.2 L606.7,263.9 L607.4,261.2 L608.2,263.3 L608.9,263.6 L609.7,265.3 L610.4,265.4 L611.2,263.0" stroke="#e2187b" stroke-width="0.9" fill="none" stroke-linecap="round" stroke-linejoin="round"/>
<path d="M476.3,373.2h0M477.0,372.7h0M477.8,373.5h0M478.5,370.4h0M479.3,369.8h0M480.0,369.4h0M480.8,368.4h0M481.5,369.9h0M482.3,371.1h0M483.0,374.3h0M483.8,375.5h0M484.5,375.0h0M485.3,376.9h0M486.0,375.8h0M486.8,375.2h0M487.5,371.6h0M488.3,371.9h0M489.0,370.7h0M489.8,372.8h0M490.5,372.5h0M491.3,376.7h0M492.0,376.8h0M492.8,377.7h0M493.5,373.4h0M494.3,371.8h0M495.0,372.2h0M495.8,373.3h0M496.5,373.4h0M497.3,372.3h0M498.0,373.0h0M498.8,367.0h0M499.5,356.5h0M500.3,350.6h0M501.0,344.2h0M501.8,337.1h0M502.5,329.1h0M503.3,326.0h0M504.0,325.7h0M504.8,325.2h0M505.5,321.4h0M506.3,317.9h0M507.0,316.3h0M507.8,315.1h0M508.5,314.0h0M509.3,310.9h0M510.0,310.2h0M510.8,310.1h0M511.5,309.2h0M512.3,306.2h0M513.0,304.4h0M513.8,303.2h0M514.5,301.7h0M515.3,299.5h0M516.0,298.9h0M516.8,296.3h0M517.5,293.6h0M518.3,290.4h0M519.0,293.0h0M519.8,291.0h0M520.5,293.3h0M521.3,291.8h0M522.0,291.9h0M522.8,287.3h0M523.5,286.9h0M524.2,287.8h0M525.0,288.4h0M525.7,288.8h0M526.5,286.4h0M527.2,285.2h0M528.0,282.6h0M528.7,282.0h0M529.5,281.1h0M530.2,279.5h0M531.0,278.9h0M531.7,277.3h0M532.5,277.7h0M533.2,277.6h0M534.0,279.5h0M534.7,277.1h0M535.5,277.3h0M536.2,275.6h0M537.0,276.2h0M537.7,275.1h0M538.5,273.1h0M539.2,273.0h0M540.0,270.9h0M540.7,271.6h0M541.5,269.4h0M542.2,271.0h0M543.0,270.5h0M543.7,270.8h0M544.5,271.0h0M545.2,271.5h0M546.0,272.3h0M546.7,271.2h0M547.5,269.7h0M548.2,270.1h0M549.0,271.8h0M549.7,275.3h0M550.5,274.7h0M551.2,273.2h0M552.0,270.7h0M552.7,269.2h0M553.5,266.1h0M554.2,265.5h0M555.0,265.4h0M555.7,268.2h0M556.5,267.7h0M557.2,266.4h0M558.0,263.6h0M558.7,266.6h0M559.5,267.0h0M560.2,266.5h0M561.0,262.9h0M561.7,265.7h0M562.5,267.8h0M563.2,268.0h0M564.0,265.5h0M564.7,266.0h0M565.5,267.6h0M566.2,266.8h0M567.0,267.3h0M567.7,264.4h0M568.5,265.4h0M569.2,263.3h0M570.0,266.6h0M570.7,267.2h0M571.4,266.6h0M572.2,266.7h0M572.9,263.3h0M573.7,265.8h0M574.4,265.4h0M575.2,267.8h0M575.9,265.4h0M576.7,262.9h0M577.4,263.3h0M578.2,264.1h0M578.9,265.2h0M579.7,265.4h0M580.4,268.2h0M581.2,266.7h0M581.9,265.6h0M582.7,262.2h0M583.4,264.1h0M584.2,264.0h0M584.9,264.2h0M585.7,263.5h0M586.4,262.4h0M587.2,264.4h0M587.9,263.9h0M588.7,266.5h0M589.4,264.8h0M590.2,263.2h0M590.9,263.2h0M591.7,262.9h0M592.4,265.4h0M593.2,262.9h0M593.9,263.9h0M594.7,265.2h0M595.4,265.7h0M596.2,264.9h0M596.9,263.2h0M597.7,262.5h0M598.4,263.1h0M599.2,263.1h0M599.9,264.2h0M600.7,262.6h0M601.4,262.8h0M602.2,261.6h0M602.9,259.4h0M603.7,259.2h0M604.4,258.2h0M605.2,263.5h0M605.9,261.2h0M606.7,263.9h0M607.4,261.2h0M608.2,263.3h0M608.9,263.6h0M609.7,265.3h0M610.4,265.4h0M611.2,263.0h0" stroke="#e2187b" stroke-width="2.5" fill="none" stroke-linecap="round" stroke-linejoin="round"/>
<text x="590.4" y="248.2" font-size="13.6" text-anchor="start" fill="#000">Stem (nt)</text>
<text x="628" y="264.4" font-size="13.6" text-anchor="middle" fill="#8227bc">14</text>
<text x="628" y="278" font-size="13.6" text-anchor="middle" fill="#e2187b">12</text>
<text x="628" y="291.4" font-size="13.6" text-anchor="middle" fill="#ea640a">10</text>
<text x="628" y="305" font-size="13.6" text-anchor="middle" fill="#2b309c">8</text>
<text x="628" y="318.4" font-size="13.6" text-anchor="middle" fill="#e0281c">6</text>
<text x="628" y="349.6" font-size="13.6" text-anchor="middle" fill="#14773c">4</text>
<text x="628" y="376.6" font-size="13.6" text-anchor="middle" fill="#000">0</text>
<text x="77.0" y="467" font-size="13.6" text-anchor="start" fill="#000">Stem length (nt)</text>
<line x1="57.70" y1="494.70" x2="57.70" y2="642.40" stroke="#000" stroke-width="1.7" stroke-linecap="butt"/>
<line x1="56.90" y1="495.50" x2="203.00" y2="495.50" stroke="#000" stroke-width="1.6" stroke-linecap="butt"/>
<line x1="56.90" y1="641.60" x2="203.00" y2="641.60" stroke="#000" stroke-width="1.7" stroke-linecap="butt"/>
<text x="57.7" y="487.6" font-size="13.6" text-anchor="middle" fill="#000">0</text>
<line x1="82.70" y1="492.20" x2="82.70" y2="495.00" stroke="#000" stroke-width="1.1" stroke-linecap="butt"/>
<text x="82.7" y="487.6" font-size="13.6" text-anchor="middle" fill="#000">4</text>
<line x1="111.03" y1="492.20" x2="111.03" y2="495.00" stroke="#000" stroke-width="1.1" stroke-linecap="butt"/>
<text x="111.0" y="487.6" font-size="13.6" text-anchor="middle" fill="#000">6</text>
<line x1="131.03" y1="492.20" x2="131.03" y2="495.00" stroke="#000" stroke-width="1.1" stroke-linecap="butt"/>
<text x="131.0" y="487.6" font-size="13.6" text-anchor="middle" fill="#000">8</text>
<line x1="147.14" y1="492.20" x2="147.14" y2="495.00" stroke="#000" stroke-width="1.1" stroke-linecap="butt"/>
<text x="147.1" y="487.6" font-size="13.6" text-anchor="middle" fill="#000">10</text>
<line x1="167.69" y1="492.20" x2="167.69" y2="495.00" stroke="#000" stroke-width="1.1" stroke-linecap="butt"/>
<text x="167.7" y="487.6" font-size="13.6" text-anchor="middle" fill="#000">12</text>
<line x1="194.91" y1="492.20" x2="194.91" y2="495.00" stroke="#000" stroke-width="1.1" stroke-linecap="butt"/>
<text x="194.9" y="487.6" font-size="13.6" text-anchor="middle" fill="#000">14</text>
<line x1="57.70" y1="629.40" x2="60.50" y2="629.40" stroke="#000" stroke-width="1.1" stroke-linecap="butt"/>
<text x="49.4" y="633" font-size="13.6" text-anchor="end" fill="#000">1.00</text>
<line x1="57.70" y1="596.40" x2="60.50" y2="596.40" stroke="#000" stroke-width="1.1" stroke-linecap="butt"/>
<text x="49.4" y="600.6" font-size="13.6" text-anchor="end" fill="#000">1.25</text>
<line x1="57.70" y1="563.40" x2="60.50" y2="563.40" stroke="#000" stroke-width="1.1" stroke-linecap="butt"/>
<text x="49.4" y="568.9" font-size="13.6" text-anchor="end" fill="#000">1.50</text>
<line x1="57.70" y1="530.40" x2="60.50" y2="530.40" stroke="#000" stroke-width="1.1" stroke-linecap="butt"/>
<text x="49.4" y="536.2" font-size="13.6" text-anchor="end" fill="#000">1.75</text>
<line x1="57.70" y1="497.40" x2="60.50" y2="497.40" stroke="#000" stroke-width="1.1" stroke-linecap="butt"/>
<text x="49.4" y="504.2" font-size="13.6" text-anchor="end" fill="#000">2.00</text>
<text x="57.7" y="658.6" font-size="13.6" text-anchor="middle" fill="#000">0</text>
<line x1="85.47" y1="639.00" x2="85.47" y2="641.60" stroke="#000" stroke-width="1.1" stroke-linecap="butt"/>
<text x="85.5" y="658.6" font-size="13.6" text-anchor="middle" fill="#000">5</text>
<line x1="113.25" y1="639.00" x2="113.25" y2="641.60" stroke="#000" stroke-width="1.1" stroke-linecap="butt"/>
<text x="113.2" y="658.6" font-size="13.6" text-anchor="middle" fill="#000">10</text>
<line x1="141.02" y1="639.00" x2="141.02" y2="641.60" stroke="#000" stroke-width="1.1" stroke-linecap="butt"/>
<text x="141.0" y="658.6" font-size="13.6" text-anchor="middle" fill="#000">15</text>
<line x1="168.80" y1="639.00" x2="168.80" y2="641.60" stroke="#000" stroke-width="1.1" stroke-linecap="butt"/>
<text x="168.8" y="658.6" font-size="13.6" text-anchor="middle" fill="#000">20</text>
<line x1="196.57" y1="639.00" x2="196.57" y2="641.60" stroke="#000" stroke-width="1.1" stroke-linecap="butt"/>
<text x="196.6" y="658.6" font-size="13.6" text-anchor="middle" fill="#000">25</text>
<text x="74.4" y="679" font-size="13.6"><tspan font-family="'Liberation Serif',serif" font-size="13">Δ</tspan>G<tspan font-size="9.3" dy="3.4">pred</tspan><tspan dy="-3.4"> (–kcal/mol)</tspan></text>
<text transform="translate(10,592.4) rotate(-90)" font-size="13.6">F<tspan font-size="9.3" dy="4.6">+Ab</tspan><tspan dy="-4.6">/F</tspan><tspan font-size="9.3" dy="4.6">–Ab</tspan></text>
<path d="M57.7,622.9 L59.1,622.6 L60.5,622.1 L61.9,621.5 L63.3,620.9 L64.6,620.2 L66.0,619.3 L67.4,618.3 L68.8,617.1 L70.2,615.8 L71.6,614.3 L73.0,612.6 L74.4,610.7 L75.8,608.5 L77.1,606.2 L78.5,603.6 L79.9,600.9 L81.3,597.8 L82.7,594.6 L84.1,591.1 L85.5,587.5 L86.9,583.6 L88.3,579.6 L89.6,575.5 L91.0,571.3 L92.4,567.0 L93.8,562.7 L95.2,558.5 L96.6,554.3 L98.0,550.3 L99.4,546.4 L100.8,542.8 L102.1,539.5 L103.5,536.5 L104.9,533.9 L106.3,531.7 L107.7,529.9 L109.1,528.7 L110.5,527.9 L111.9,527.6 L113.2,527.9 L114.6,528.7 L116.0,529.9 L117.4,531.7 L118.8,533.9 L120.2,536.5 L121.6,539.5 L123.0,542.8 L124.4,546.4 L125.7,550.3 L127.1,554.3 L128.5,558.5 L129.9,562.7 L131.3,567.0 L132.7,571.3 L134.1,575.5 L135.5,579.6 L136.9,583.6 L138.2,587.5 L139.6,591.1 L141.0,594.6 L142.4,597.8 L143.8,600.9 L145.2,603.6 L146.6,606.2 L148.0,608.5 L149.4,610.7 L150.7,612.6 L152.1,614.3 L153.5,615.8 L154.9,617.1 L156.3,618.3 L157.7,619.3 L159.1,620.2 L160.5,620.9 L161.9,621.5 L163.2,622.1 L164.6,622.6 L166.0,622.9 L167.4,623.3 L168.8,623.5 L170.2,623.8 L171.6,623.9 L173.0,624.1 L174.4,624.2 L175.7,624.3 L177.1,624.4 L178.5,624.4 L179.9,624.5 L181.3,624.5 L182.7,624.6 L184.1,624.6 L185.5,624.6 L186.9,624.6 L188.2,624.6 L189.6,624.6 L191.0,624.6 L192.4,624.6 L193.8,624.6 L195.2,624.6 L196.6,624.6 L198.0,624.6 L199.4,624.6 L200.7,624.6 L202.1,624.6" stroke="#000" stroke-width="1.7" fill="none" stroke-linecap="butt" stroke-linejoin="round"/>
<line x1="82.70" y1="578.32" x2="82.70" y2="611.45" stroke="#3a3a3a" stroke-width="1.0" stroke-linecap="butt"/>
<line x1="81.40" y1="578.32" x2="84.00" y2="578.32" stroke="#444" stroke-width="0.8" stroke-linecap="butt"/>
<line x1="81.40" y1="611.45" x2="84.00" y2="611.45" stroke="#444" stroke-width="0.8" stroke-linecap="butt"/>
<line x1="111.03" y1="507.43" x2="111.03" y2="547.56" stroke="#3a3a3a" stroke-width="1.0" stroke-linecap="butt"/>
<line x1="109.73" y1="507.43" x2="112.33" y2="507.43" stroke="#444" stroke-width="0.8" stroke-linecap="butt"/>
<line x1="109.73" y1="547.56" x2="112.33" y2="547.56" stroke="#444" stroke-width="0.8" stroke-linecap="butt"/>
<line x1="131.03" y1="552.44" x2="131.03" y2="589.40" stroke="#3a3a3a" stroke-width="1.0" stroke-linecap="butt"/>
<line x1="129.73" y1="552.44" x2="132.33" y2="552.44" stroke="#444" stroke-width="0.8" stroke-linecap="butt"/>
<line x1="129.73" y1="589.40" x2="132.33" y2="589.40" stroke="#444" stroke-width="0.8" stroke-linecap="butt"/>
<line x1="147.14" y1="585.05" x2="147.14" y2="609.07" stroke="#3a3a3a" stroke-width="1.0" stroke-linecap="butt"/>
<line x1="145.84" y1="585.05" x2="148.44" y2="585.05" stroke="#444" stroke-width="0.8" stroke-linecap="butt"/>
<line x1="145.84" y1="609.07" x2="148.44" y2="609.07" stroke="#444" stroke-width="0.8" stroke-linecap="butt"/>
<line x1="167.69" y1="605.38" x2="167.69" y2="627.42" stroke="#3a3a3a" stroke-width="1.0" stroke-linecap="butt"/>
<line x1="166.39" y1="605.38" x2="168.99" y2="605.38" stroke="#444" stroke-width="0.8" stroke-linecap="butt"/>
<line x1="166.39" y1="627.42" x2="168.99" y2="627.42" stroke="#444" stroke-width="0.8" stroke-linecap="butt"/>
<line x1="194.91" y1="613.96" x2="194.91" y2="640.49" stroke="#3a3a3a" stroke-width="1.0" stroke-linecap="butt"/>
<line x1="193.61" y1="613.96" x2="196.21" y2="613.96" stroke="#444" stroke-width="0.8" stroke-linecap="butt"/>
<line x1="193.61" y1="640.49" x2="196.21" y2="640.49" stroke="#444" stroke-width="0.8" stroke-linecap="butt"/>
<circle cx="57.7" cy="629.4" r="4.4" fill="#000"/>
<circle cx="82.7" cy="594.8" r="4.4" fill="#0f7a40"/>
<circle cx="111.0" cy="527.4" r="4.4" fill="#e0281c"/>
<circle cx="131.0" cy="571.1" r="4.4" fill="#2e33a0"/>
<circle cx="147.1" cy="597.5" r="4.4" fill="#ee6a0a"/>
<circle cx="167.7" cy="616.6" r="4.4" fill="#e8207e"/>
<circle cx="194.9" cy="627.0" r="4.4" fill="#8a2cc0"/>
<text x="261.0" y="489.6" font-size="13.6" text-anchor="start" fill="#000">Dig-split binding (6-nt stem)</text>
<text x="315.4" y="531.8" font-size="13.6" text-anchor="start" fill="#000">Dig-split#2</text>
<text x="243.0" y="628" font-size="13.6" text-anchor="start" fill="#000">Dig-split#1</text>
<path d="M275,595L293.6,583" stroke="#f39208" stroke-width="2.7" fill="none" stroke-linecap="round" stroke-linejoin="round"/>
<path d="M293.6,583C292,576 287,570 288,564.5C289,560.5 292,560.3 295.4,562M294.6,561L289.4,558.2" stroke="#000" stroke-width="3.3" fill="none" stroke-linecap="round" stroke-linejoin="round"/>
<polygon points="306.99,564.60 302.60,568.99 296.62,567.38 295.01,561.40 299.40,557.01 305.38,558.62" fill="#e0281c"/>
<circle cx="270.4" cy="598.6" r="6" fill="#e6087f"/>
<text x="270.4" y="603.3" font-size="13.6" text-anchor="middle" fill="#000">F</text>
<path d="M347,558.7H368M347,558.7L354.2,552.6" stroke="#f39208" stroke-width="2.7" fill="none" stroke-linecap="round" stroke-linejoin="round"/>
<path d="M368,558.7V549.5Q368,545.2 372,545.2H378" stroke="#000" stroke-width="3.3" fill="none" stroke-linecap="round" stroke-linejoin="round"/>
<polygon points="388.40,549.55 384.15,553.80 378.36,552.24 376.80,546.45 381.05,542.20 386.84,543.76" fill="#e0281c"/>
<circle cx="342.4" cy="558.3" r="4.5" fill="#808080"/>
<text x="342.4" y="563" font-size="13.6" text-anchor="middle" fill="#000">Q</text>
<line x1="331.00" y1="587.50" x2="376.00" y2="587.50" stroke="#000" stroke-width="1.6" stroke-linecap="butt"/>
<polygon points="382.00,587.50 375.00,591.20 375.00,583.80" fill="#000"/>
<path d="M352.6,569.4C354,577 360,580.3 367.5,580.4" stroke="#000" stroke-width="1.1" fill="none" stroke-linecap="butt" stroke-linejoin="round"/>
<polygon points="370.60,580.50 366.34,582.25 366.47,578.45" fill="#000"/>
<path d="M353,603.6C354,596 360,592.2 367.5,592" stroke="#000" stroke-width="1.1" fill="none" stroke-linecap="butt" stroke-linejoin="round"/>
<polygon points="370.60,591.90 366.47,593.95 366.34,590.15" fill="#000"/>
<path d="M341.6,603L352,611.2V633M367.6,603L357.6,611.2V633M339,604.2L348,613.2M370,604.4L361,613.4" stroke="#e0281c" stroke-width="2.5" fill="none" stroke-linecap="butt" stroke-linejoin="miter"/>
<path d="M427.6,535V561L414,570.2M433.4,535V561L446.4,570.2M423.6,559L412,568.2M437,559L449,568.2" stroke="#e0281c" stroke-width="2.5" fill="none" stroke-linecap="butt" stroke-linejoin="miter"/>
<path d="M429.6,597H433.6M429.6,598.8H433.6M429.6,600.6H433.6M429.6,602.4H433.6M429.6,604.2H433.6M429.6,606H433.6M429.6,607.8H433.6M429.6,609.6H433.6M429.6,611.4H433.6M429.6,613.2H433.6M429.6,615H433.6M429.6,616.8H433.6" stroke="#111" stroke-width="0.75" fill="none" stroke-linecap="butt" stroke-linejoin="round"/>
<path d="M427.5,595V624" stroke="#f39208" stroke-width="2.8" fill="none" stroke-linecap="butt" stroke-linejoin="round"/>
<path d="M435.6,595V621.6L441.4,616.8" stroke="#f39208" stroke-width="2.8" fill="none" stroke-linecap="butt" stroke-linejoin="miter"/>
<path d="M403.8,584.8L409.6,583.4C408,589 409,594.4 416,594.8L428.8,595" stroke="#000" stroke-width="3.4" fill="none" stroke-linecap="round" stroke-linejoin="round"/>
<path d="M434.4,595L446,594.8C452.5,594.5 453.8,590 453,584L451.6,582" stroke="#000" stroke-width="3.4" fill="none" stroke-linecap="round" stroke-linejoin="round"/>
<polygon points="420.49,579.98 416.18,584.29 410.29,582.71 408.71,576.82 413.02,572.51 418.91,574.09" fill="#e0281c"/>
<polygon points="452.89,579.58 448.58,583.89 442.69,582.31 441.11,576.42 445.42,572.11 451.31,573.69" fill="#e0281c"/>
<circle cx="425" cy="625.8" r="4.8" fill="#e6087f"/>
<text x="425" y="630.4" font-size="13" text-anchor="middle" fill="#000">F</text>
<circle cx="436.2" cy="625.8" r="4.6" fill="#808080"/>
<text x="436.2" y="630.5" font-size="13.3" text-anchor="middle" fill="#000">Q</text>
<text x="592.0" y="495" font-size="13.9" text-anchor="start" fill="#555">– anti-Dig Ab</text>
<text x="592.0" y="515.6" font-size="13.9" text-anchor="start" fill="#e02a20">+ anti-Dig Ab</text>
<path d="M512.0,519.7 L513.0,519.7 L514.0,519.7 L515.0,519.7 L516.0,519.7 L517.0,519.7 L518.0,519.7 L519.0,519.7 L520.0,519.7 L521.0,519.7 L522.0,519.7 L523.0,519.7 L524.0,519.7 L525.0,519.7 L526.0,519.7 L527.0,519.7 L528.0,519.7 L529.0,519.7 L530.0,519.7 L531.0,519.7 L532.0,519.7 L533.0,519.7 L534.0,519.7 L535.0,519.7 L536.0,519.7 L537.0,519.7 L538.0,519.7 L539.0,519.7 L540.0,519.7 L541.0,519.8 L542.0,519.8 L543.0,519.8 L544.0,519.8 L545.0,519.8 L546.0,519.8 L547.0,519.8 L548.0,519.8 L549.0,519.9 L550.0,519.9 L551.0,519.9 L552.0,519.9 L553.0,519.9 L554.0,520.0 L555.0,520.0 L556.0,520.0 L557.0,520.1 L558.0,520.1 L559.0,520.2 L560.0,520.2 L561.0,520.3 L562.0,520.4 L563.0,520.5 L564.0,520.5 L565.0,520.6 L566.0,520.7 L567.0,520.9 L568.0,521.0 L569.0,521.1 L570.0,521.3 L571.0,521.5 L572.0,521.7 L573.0,521.9 L574.0,522.1 L575.0,522.4 L576.0,522.7 L577.0,523.1 L578.0,523.4 L579.0,523.8 L580.0,524.3 L581.0,524.8 L582.0,525.3 L583.0,525.9 L584.0,526.6 L585.0,527.3 L586.0,528.1 L587.0,529.0 L588.0,529.9 L589.0,531.0 L590.0,532.1 L591.0,533.3 L592.0,534.7 L593.0,536.1 L594.0,537.7 L595.0,539.3 L596.0,541.1 L597.0,543.0 L598.0,545.0 L599.0,547.1 L600.0,549.3 L601.0,551.7 L602.0,554.1 L603.0,556.7 L604.0,559.3 L605.0,562.0 L606.0,564.7 L607.0,567.5 L608.0,570.3 L609.0,573.1 L610.0,575.9 L611.0,578.7 L612.0,581.4 L613.0,584.1 L614.0,586.8 L615.0,589.3 L616.0,591.8 L617.0,594.2 L618.0,596.4 L619.0,598.6 L620.0,600.6 L621.0,602.5 L622.0,604.3 L623.0,606.0 L624.0,607.6 L625.0,609.1 L626.0,610.4 L627.0,611.7 L628.0,612.8 L629.0,613.9 L630.0,614.9 L631.0,615.8 L632.0,616.6 L633.0,617.3 L634.0,618.0 L635.0,618.6 L636.0,619.2 L637.0,619.7 L638.0,620.1 L639.0,620.6 L640.0,620.9 L641.0,621.3 L642.0,621.6 L643.0,621.9" stroke="#555555" stroke-width="2.4" fill="none" stroke-linecap="butt" stroke-linejoin="round"/>
<circle cx="524.0" cy="519" r="4.2" fill="#555555"/>
<circle cx="537.1" cy="520" r="4.2" fill="#555555"/>
<circle cx="550.2" cy="520" r="4.2" fill="#555555"/>
<circle cx="563.3" cy="521.4" r="4.2" fill="#555555"/>
<circle cx="576.4" cy="522.4" r="4.2" fill="#555555"/>
<circle cx="589.5" cy="532.6" r="4.2" fill="#555555"/>
<circle cx="602.6" cy="555.6" r="4.2" fill="#555555"/>
<circle cx="615.7" cy="591" r="4.2" fill="#555555"/>
<circle cx="628.8" cy="613.6" r="4.2" fill="#555555"/>
<path d="M512.0,516.1 L513.0,516.1 L514.0,516.1 L515.0,516.1 L516.0,516.1 L517.0,516.2 L518.0,516.2 L519.0,516.2 L520.0,516.2 L521.0,516.3 L522.0,516.3 L523.0,516.3 L524.0,516.4 L525.0,516.4 L526.0,516.5 L527.0,516.5 L528.0,516.6 L529.0,516.7 L530.0,516.7 L531.0,516.8 L532.0,516.9 L533.0,517.0 L534.0,517.1 L535.0,517.3 L536.0,517.4 L537.0,517.5 L538.0,517.7 L539.0,517.9 L540.0,518.1 L541.0,518.3 L542.0,518.6 L543.0,518.8 L544.0,519.1 L545.0,519.4 L546.0,519.8 L547.0,520.2 L548.0,520.6 L549.0,521.1 L550.0,521.6 L551.0,522.1 L552.0,522.7 L553.0,523.4 L554.0,524.1 L555.0,524.9 L556.0,525.8 L557.0,526.7 L558.0,527.7 L559.0,528.7 L560.0,529.9 L561.0,531.2 L562.0,532.5 L563.0,533.9 L564.0,535.5 L565.0,537.1 L566.0,538.8 L567.0,540.7 L568.0,542.6 L569.0,544.6 L570.0,546.8 L571.0,549.0 L572.0,551.3 L573.0,553.7 L574.0,556.1 L575.0,558.6 L576.0,561.2 L577.0,563.8 L578.0,566.4 L579.0,569.0 L580.0,571.7 L581.0,574.3 L582.0,576.9 L583.0,579.5 L584.0,582.0 L585.0,584.4 L586.0,586.8 L587.0,589.1 L588.0,591.3 L589.0,593.5 L590.0,595.5 L591.0,597.4 L592.0,599.3 L593.0,601.0 L594.0,602.6 L595.0,604.2 L596.0,605.6 L597.0,607.0 L598.0,608.2 L599.0,609.4 L600.0,610.5 L601.0,611.5 L602.0,612.4 L603.0,613.2 L604.0,614.0 L605.0,614.7 L606.0,615.4 L607.0,616.0 L608.0,616.6 L609.0,617.1 L610.0,617.6 L611.0,618.0 L612.0,618.4 L613.0,618.7 L614.0,619.0 L615.0,619.3 L616.0,619.6 L617.0,619.9 L618.0,620.1 L619.0,620.3 L620.0,620.5 L621.0,620.6 L622.0,620.8 L623.0,620.9 L624.0,621.0 L625.0,621.2 L626.0,621.3 L627.0,621.4 L628.0,621.4 L629.0,621.5 L630.0,621.6 L631.0,621.6 L632.0,621.7 L633.0,621.8 L634.0,621.8 L635.0,621.8 L636.0,621.9 L637.0,621.9 L638.0,621.9 L639.0,622.0 L640.0,622.0 L641.0,622.0 L642.0,622.0 L643.0,622.1" stroke="#e0281c" stroke-width="2.4" fill="none" stroke-linecap="butt" stroke-linejoin="round"/>
<circle cx="524.0" cy="517" r="4.2" fill="#e0281c"/>
<circle cx="537.1" cy="514.4" r="4.2" fill="#e0281c"/>
<circle cx="550.2" cy="521.6" r="4.2" fill="#e0281c"/>
<circle cx="563.3" cy="538" r="4.2" fill="#e0281c"/>
<circle cx="576.4" cy="558" r="4.2" fill="#e0281c"/>
<circle cx="589.5" cy="591.6" r="4.2" fill="#e0281c"/>
<circle cx="602.6" cy="614" r="4.2" fill="#e0281c"/>
<circle cx="615.7" cy="616.6" r="4.2" fill="#e0281c"/>
<circle cx="628.8" cy="621.6" r="4.2" fill="#e0281c"/>
<line x1="512.20" y1="506.00" x2="512.20" y2="636.40" stroke="#000" stroke-width="2.0" stroke-linecap="butt"/>
<line x1="511.20" y1="635.40" x2="643.60" y2="635.40" stroke="#000" stroke-width="2.0" stroke-linecap="butt"/>
<line x1="509.00" y1="624.40" x2="512.00" y2="624.40" stroke="#000" stroke-width="1.1" stroke-linecap="butt"/>
<text x="503" y="629.2" font-size="13.6" text-anchor="end" fill="#000">0</text>
<line x1="509.00" y1="517.00" x2="512.00" y2="517.00" stroke="#000" stroke-width="1.1" stroke-linecap="butt"/>
<text x="503" y="521.8" font-size="13.6" text-anchor="end" fill="#000">1</text>
<line x1="538.20" y1="635.40" x2="538.20" y2="638.00" stroke="#000" stroke-width="1.1" stroke-linecap="butt"/>
<line x1="564.30" y1="635.40" x2="564.30" y2="638.00" stroke="#000" stroke-width="1.1" stroke-linecap="butt"/>
<line x1="590.40" y1="635.40" x2="590.40" y2="638.00" stroke="#000" stroke-width="1.1" stroke-linecap="butt"/>
<line x1="616.50" y1="635.40" x2="616.50" y2="638.00" stroke="#000" stroke-width="1.1" stroke-linecap="butt"/>
<line x1="643.00" y1="635.40" x2="643.00" y2="638.00" stroke="#000" stroke-width="1.1" stroke-linecap="butt"/>
<text x="511.5" y="655.6" font-size="13.6">10<tspan font-size="9.3" dy="-5.6">−10</tspan></text>
<text x="565" y="655.6" font-size="13.6">10<tspan font-size="9.3" dy="-5.6">−8</tspan></text>
<text x="618" y="655.6" font-size="13.6">10<tspan font-size="9.3" dy="-5.6">−6</tspan></text>
<text x="527.0" y="675.6" font-size="13.6" text-anchor="start" fill="#000">[Dig-split #2] (M)</text>
<text transform="translate(488,573) rotate(-90)" font-size="13.6" text-anchor="middle">Rel. fluorescence</text>
</svg></body></html>
